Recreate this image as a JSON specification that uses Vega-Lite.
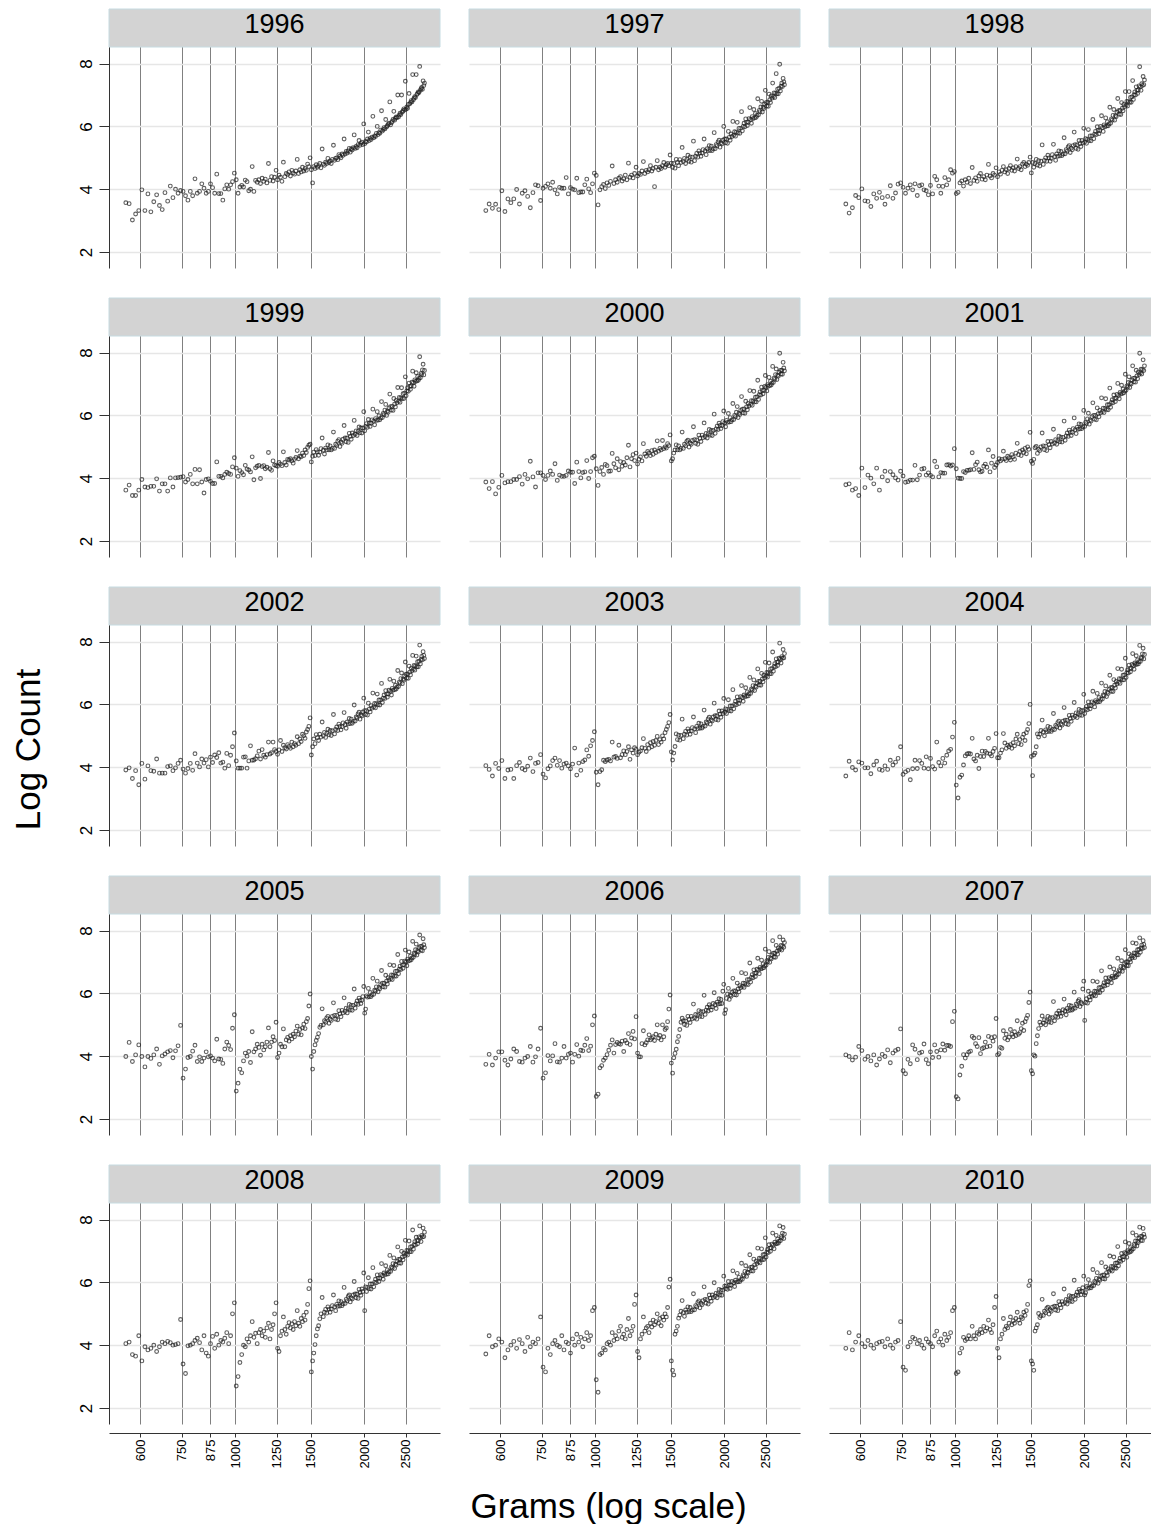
{
"$schema":"https://vega.github.io/schema/vega-lite/v6.json",
"padding":{"left":11,"top":8,"right":0,"bottom":0},
"background":"white",
"config":{"font":"Liberation Sans","view":{"stroke":null},
"axis":{"labelFont":"Liberation Sans","titleFont":"Liberation Sans","labelColor":"#000","titleColor":"#000","titleFontWeight":"normal","zindex":0},
"axisX":{"grid":true,"gridColor":"#808080","gridWidth":1,"labels":false,"ticks":false,"domain":false},
"axisY":{"grid":true,"gridColor":"#e6e6e6","gridWidth":1.5,"labels":false,"ticks":false,"domain":false}},
"datasets":{
"y1996":[{"g":555,"v":3.57},{"g":565,"v":3.54},{"g":575,"v":3.02},{"g":585,"v":3.21},{"g":595,"v":3.32},{"g":605,"v":3.98},{"g":615,"v":3.32},{"g":625,"v":3.85},{"g":635,"v":3.28},{"g":645,"v":3.6},{"g":655,"v":3.82},{"g":665,"v":3.48},{"g":675,"v":3.35},{"g":685,"v":3.89},{"g":695,"v":3.62},{"g":705,"v":4.1},{"g":715,"v":3.73},{"g":725,"v":4.0},{"g":735,"v":3.87},{"g":745,"v":3.96},{"g":755,"v":3.93},{"g":765,"v":3.79},{"g":775,"v":3.65},{"g":785,"v":3.93},{"g":795,"v":3.79},{"g":805,"v":4.33},{"g":815,"v":3.87},{"g":825,"v":3.93},{"g":835,"v":4.17},{"g":845,"v":4.03},{"g":855,"v":3.87},{"g":865,"v":3.93},{"g":875,"v":4.17},{"g":885,"v":4.05},{"g":895,"v":3.87},{"g":905,"v":4.48},{"g":915,"v":3.86},{"g":925,"v":3.86},{"g":935,"v":3.65},{"g":945,"v":4.01},{"g":955,"v":4.14},{"g":965,"v":4.0},{"g":975,"v":4.14},{"g":985,"v":4.24},{"g":995,"v":4.51},{"g":1005,"v":4.3},{"g":1015,"v":3.87},{"g":1025,"v":4.07},{"g":1035,"v":4.12},{"g":1045,"v":4.07},{"g":1055,"v":4.29},{"g":1065,"v":4.24},{"g":1075,"v":3.95},{"g":1085,"v":4.0},{"g":1095,"v":4.72},{"g":1105,"v":3.93},{"g":1115,"v":4.28},{"g":1125,"v":4.22},{"g":1135,"v":4.3},{"g":1145,"v":4.18},{"g":1155,"v":4.35},{"g":1165,"v":4.25},{"g":1175,"v":4.32},{"g":1185,"v":4.2},{"g":1195,"v":4.82},{"g":1205,"v":4.28},{"g":1215,"v":4.4},{"g":1225,"v":4.26},{"g":1235,"v":4.38},{"g":1245,"v":4.6},{"g":1255,"v":4.3},{"g":1265,"v":4.45},{"g":1275,"v":4.38},{"g":1285,"v":4.25},{"g":1295,"v":4.86},{"g":1305,"v":4.4},{"g":1315,"v":4.5},{"g":1325,"v":4.47},{"g":1335,"v":4.55},{"g":1345,"v":4.42},{"g":1355,"v":4.6},{"g":1365,"v":4.52},{"g":1375,"v":4.48},{"g":1385,"v":4.58},{"g":1395,"v":4.95},{"g":1405,"v":4.5},{"g":1415,"v":4.62},{"g":1425,"v":4.55},{"g":1435,"v":4.7},{"g":1445,"v":4.58},{"g":1455,"v":4.66},{"g":1465,"v":4.6},{"g":1475,"v":4.8},{"g":1485,"v":4.72},{"g":1495,"v":5.0},{"g":1505,"v":4.62},{"g":1515,"v":4.2},{"g":1525,"v":4.72},{"g":1535,"v":4.66},{"g":1545,"v":4.78},{"g":1555,"v":4.7},{"g":1565,"v":4.75},{"g":1575,"v":4.82},{"g":1585,"v":4.68},{"g":1595,"v":5.28},{"g":1605,"v":4.8},{"g":1615,"v":4.76},{"g":1625,"v":4.86},{"g":1635,"v":4.82},{"g":1645,"v":4.98},{"g":1655,"v":4.85},{"g":1665,"v":4.9},{"g":1675,"v":4.82},{"g":1685,"v":4.95},{"g":1695,"v":5.4},{"g":1705,"v":4.92},{"g":1715,"v":4.98},{"g":1725,"v":5.0},{"g":1735,"v":4.94},{"g":1745,"v":5.1},{"g":1755,"v":5.05},{"g":1765,"v":5.0},{"g":1775,"v":5.12},{"g":1785,"v":5.08},{"g":1795,"v":5.6},{"g":1805,"v":5.12},{"g":1815,"v":5.2},{"g":1825,"v":5.15},{"g":1835,"v":5.22},{"g":1845,"v":5.3},{"g":1855,"v":5.18},{"g":1865,"v":5.28},{"g":1875,"v":5.25},{"g":1885,"v":5.32},{"g":1895,"v":5.73},{"g":1905,"v":5.3},{"g":1915,"v":5.36},{"g":1925,"v":5.32},{"g":1935,"v":5.42},{"g":1945,"v":5.55},{"g":1955,"v":5.4},{"g":1965,"v":5.46},{"g":1975,"v":5.5},{"g":1985,"v":5.42},{"g":1995,"v":6.08},{"g":2005,"v":5.45},{"g":2015,"v":5.52},{"g":2025,"v":5.5},{"g":2035,"v":5.6},{"g":2045,"v":5.82},{"g":2055,"v":5.55},{"g":2065,"v":5.62},{"g":2075,"v":5.58},{"g":2085,"v":5.66},{"g":2095,"v":6.32},{"g":2105,"v":5.64},{"g":2115,"v":5.7},{"g":2125,"v":5.68},{"g":2135,"v":5.78},{"g":2145,"v":6.0},{"g":2155,"v":5.74},{"g":2165,"v":5.8},{"g":2175,"v":5.78},{"g":2185,"v":5.88},{"g":2195,"v":6.5},{"g":2205,"v":5.85},{"g":2215,"v":5.9},{"g":2225,"v":5.96},{"g":2235,"v":5.92},{"g":2245,"v":6.22},{"g":2255,"v":5.98},{"g":2265,"v":6.02},{"g":2275,"v":6.06},{"g":2285,"v":6.1},{"g":2295,"v":6.78},{"g":2305,"v":6.05},{"g":2315,"v":6.12},{"g":2325,"v":6.16},{"g":2335,"v":6.22},{"g":2345,"v":6.48},{"g":2355,"v":6.2},{"g":2365,"v":6.26},{"g":2375,"v":6.3},{"g":2385,"v":6.28},{"g":2395,"v":7.0},{"g":2405,"v":6.3},{"g":2415,"v":6.36},{"g":2425,"v":6.42},{"g":2435,"v":6.38},{"g":2445,"v":7.0},{"g":2455,"v":6.46},{"g":2465,"v":6.5},{"g":2475,"v":6.56},{"g":2485,"v":6.52},{"g":2495,"v":7.44},{"g":2505,"v":6.55},{"g":2515,"v":6.62},{"g":2525,"v":6.58},{"g":2535,"v":6.7},{"g":2545,"v":7.05},{"g":2555,"v":6.72},{"g":2565,"v":6.76},{"g":2575,"v":6.82},{"g":2585,"v":6.78},{"g":2595,"v":7.65},{"g":2605,"v":6.85},{"g":2615,"v":6.9},{"g":2625,"v":6.95},{"g":2635,"v":6.92},{"g":2645,"v":7.65},{"g":2655,"v":7.02},{"g":2665,"v":7.05},{"g":2675,"v":7.1},{"g":2685,"v":7.08},{"g":2695,"v":7.91},{"g":2705,"v":7.15},{"g":2715,"v":7.2},{"g":2725,"v":7.24},{"g":2735,"v":7.18},{"g":2745,"v":7.45},{"g":2755,"v":7.3},{"g":2765,"v":7.38}],
"y1997":[{"g":555,"v":3.32},{"g":565,"v":3.53},{"g":575,"v":3.39},{"g":585,"v":3.52},{"g":595,"v":3.35},{"g":605,"v":3.95},{"g":615,"v":3.29},{"g":625,"v":3.69},{"g":635,"v":3.57},{"g":645,"v":3.69},{"g":655,"v":3.99},{"g":665,"v":3.53},{"g":675,"v":3.87},{"g":685,"v":3.95},{"g":695,"v":3.77},{"g":705,"v":3.41},{"g":715,"v":3.89},{"g":725,"v":4.14},{"g":735,"v":4.11},{"g":745,"v":3.64},{"g":755,"v":4.03},{"g":765,"v":4.09},{"g":775,"v":4.17},{"g":785,"v":4.03},{"g":795,"v":4.22},{"g":805,"v":3.98},{"g":815,"v":3.85},{"g":825,"v":4.06},{"g":835,"v":4.03},{"g":845,"v":4.03},{"g":855,"v":4.37},{"g":865,"v":3.85},{"g":875,"v":4.05},{"g":885,"v":4.0},{"g":895,"v":3.98},{"g":905,"v":4.35},{"g":915,"v":3.89},{"g":925,"v":3.91},{"g":935,"v":3.91},{"g":945,"v":4.14},{"g":955,"v":4.32},{"g":965,"v":4.01},{"g":975,"v":3.89},{"g":985,"v":4.17},{"g":995,"v":4.51},{"g":1005,"v":4.44},{"g":1015,"v":3.5},{"g":1025,"v":3.98},{"g":1035,"v":4.08},{"g":1045,"v":4.15},{"g":1055,"v":4.02},{"g":1065,"v":4.2},{"g":1075,"v":4.12},{"g":1085,"v":4.25},{"g":1095,"v":4.74},{"g":1105,"v":4.18},{"g":1115,"v":4.3},{"g":1125,"v":4.22},{"g":1135,"v":4.35},{"g":1145,"v":4.4},{"g":1155,"v":4.26},{"g":1165,"v":4.33},{"g":1175,"v":4.45},{"g":1185,"v":4.3},{"g":1195,"v":4.83},{"g":1205,"v":4.38},{"g":1215,"v":4.45},{"g":1225,"v":4.36},{"g":1235,"v":4.5},{"g":1245,"v":4.7},{"g":1255,"v":4.42},{"g":1265,"v":4.5},{"g":1275,"v":4.47},{"g":1285,"v":4.58},{"g":1295,"v":4.88},{"g":1305,"v":4.5},{"g":1315,"v":4.6},{"g":1325,"v":4.55},{"g":1335,"v":4.62},{"g":1345,"v":4.75},{"g":1355,"v":4.58},{"g":1365,"v":4.66},{"g":1375,"v":4.08},{"g":1385,"v":4.7},{"g":1395,"v":4.91},{"g":1405,"v":4.62},{"g":1415,"v":4.7},{"g":1425,"v":4.66},{"g":1435,"v":4.75},{"g":1445,"v":4.85},{"g":1455,"v":4.7},{"g":1465,"v":4.78},{"g":1475,"v":4.82},{"g":1485,"v":4.75},{"g":1495,"v":5.09},{"g":1505,"v":4.83},{"g":1515,"v":4.7},{"g":1525,"v":4.82},{"g":1535,"v":4.67},{"g":1545,"v":4.95},{"g":1555,"v":4.85},{"g":1565,"v":4.75},{"g":1575,"v":4.94},{"g":1585,"v":4.85},{"g":1595,"v":5.33},{"g":1605,"v":4.88},{"g":1615,"v":4.98},{"g":1625,"v":4.82},{"g":1635,"v":4.95},{"g":1645,"v":5.08},{"g":1655,"v":4.89},{"g":1665,"v":5.03},{"g":1675,"v":4.86},{"g":1685,"v":5.02},{"g":1695,"v":5.53},{"g":1705,"v":4.91},{"g":1715,"v":5.05},{"g":1725,"v":5.14},{"g":1735,"v":5.02},{"g":1745,"v":5.22},{"g":1755,"v":5.15},{"g":1765,"v":5.05},{"g":1775,"v":5.15},{"g":1785,"v":5.26},{"g":1795,"v":5.6},{"g":1805,"v":5.22},{"g":1815,"v":5.1},{"g":1825,"v":5.29},{"g":1835,"v":5.23},{"g":1845,"v":5.39},{"g":1855,"v":5.23},{"g":1865,"v":5.37},{"g":1875,"v":5.23},{"g":1885,"v":5.29},{"g":1895,"v":5.8},{"g":1905,"v":5.29},{"g":1915,"v":5.42},{"g":1925,"v":5.38},{"g":1935,"v":5.51},{"g":1945,"v":5.56},{"g":1955,"v":5.34},{"g":1965,"v":5.48},{"g":1975,"v":5.44},{"g":1985,"v":5.56},{"g":1995,"v":6.0},{"g":2005,"v":5.6},{"g":2015,"v":5.48},{"g":2025,"v":5.6},{"g":2035,"v":5.46},{"g":2045,"v":5.84},{"g":2055,"v":5.65},{"g":2065,"v":5.56},{"g":2075,"v":5.76},{"g":2085,"v":5.68},{"g":2095,"v":6.16},{"g":2105,"v":5.72},{"g":2115,"v":5.83},{"g":2125,"v":5.69},{"g":2135,"v":5.82},{"g":2145,"v":6.13},{"g":2155,"v":5.79},{"g":2165,"v":5.94},{"g":2175,"v":5.78},{"g":2185,"v":5.94},{"g":2195,"v":6.47},{"g":2205,"v":5.86},{"g":2215,"v":6.0},{"g":2225,"v":6.1},{"g":2235,"v":5.99},{"g":2245,"v":6.24},{"g":2255,"v":6.13},{"g":2265,"v":6.03},{"g":2275,"v":6.13},{"g":2285,"v":6.25},{"g":2295,"v":6.6},{"g":2305,"v":6.22},{"g":2315,"v":6.1},{"g":2325,"v":6.31},{"g":2335,"v":6.25},{"g":2345,"v":6.54},{"g":2355,"v":6.27},{"g":2365,"v":6.41},{"g":2375,"v":6.29},{"g":2385,"v":6.35},{"g":2395,"v":6.88},{"g":2405,"v":6.37},{"g":2415,"v":6.51},{"g":2425,"v":6.47},{"g":2435,"v":6.62},{"g":2445,"v":6.8},{"g":2455,"v":6.46},{"g":2465,"v":6.61},{"g":2475,"v":6.57},{"g":2485,"v":6.71},{"g":2495,"v":7.15},{"g":2505,"v":6.76},{"g":2515,"v":6.65},{"g":2525,"v":6.77},{"g":2535,"v":6.64},{"g":2545,"v":7.03},{"g":2555,"v":6.85},{"g":2565,"v":6.76},{"g":2575,"v":6.97},{"g":2585,"v":6.9},{"g":2595,"v":7.38},{"g":2605,"v":6.95},{"g":2615,"v":7.07},{"g":2625,"v":6.92},{"g":2635,"v":7.06},{"g":2645,"v":7.68},{"g":2655,"v":7.04},{"g":2665,"v":7.19},{"g":2675,"v":7.04},{"g":2685,"v":7.21},{"g":2695,"v":7.98},{"g":2705,"v":7.13},{"g":2715,"v":7.28},{"g":2725,"v":7.38},{"g":2735,"v":7.27},{"g":2745,"v":7.53},{"g":2755,"v":7.42},{"g":2765,"v":7.33}],
"y1998":[{"g":555,"v":3.53},{"g":565,"v":3.24},{"g":575,"v":3.41},{"g":585,"v":3.8},{"g":595,"v":3.73},{"g":605,"v":4.01},{"g":615,"v":3.63},{"g":625,"v":3.61},{"g":635,"v":3.45},{"g":645,"v":3.85},{"g":655,"v":3.71},{"g":665,"v":3.9},{"g":675,"v":3.73},{"g":685,"v":3.52},{"g":695,"v":3.77},{"g":705,"v":4.11},{"g":715,"v":3.71},{"g":725,"v":3.88},{"g":735,"v":4.16},{"g":745,"v":4.2},{"g":755,"v":4.06},{"g":765,"v":3.87},{"g":775,"v":4.03},{"g":785,"v":4.14},{"g":795,"v":3.98},{"g":805,"v":4.17},{"g":815,"v":3.8},{"g":825,"v":4.11},{"g":835,"v":4.14},{"g":845,"v":3.98},{"g":855,"v":3.95},{"g":865,"v":3.82},{"g":875,"v":4.12},{"g":885,"v":3.85},{"g":895,"v":4.41},{"g":905,"v":4.3},{"g":915,"v":4.1},{"g":925,"v":3.87},{"g":935,"v":4.09},{"g":945,"v":4.37},{"g":955,"v":4.14},{"g":965,"v":4.3},{"g":975,"v":4.62},{"g":985,"v":4.51},{"g":995,"v":4.56},{"g":1005,"v":3.86},{"g":1015,"v":3.9},{"g":1025,"v":4.2},{"g":1035,"v":4.26},{"g":1045,"v":4.1},{"g":1055,"v":4.3},{"g":1065,"v":4.22},{"g":1075,"v":4.35},{"g":1085,"v":4.18},{"g":1095,"v":4.69},{"g":1105,"v":4.28},{"g":1115,"v":4.36},{"g":1125,"v":4.25},{"g":1135,"v":4.42},{"g":1145,"v":4.5},{"g":1155,"v":4.32},{"g":1165,"v":4.4},{"g":1175,"v":4.3},{"g":1185,"v":4.45},{"g":1195,"v":4.79},{"g":1205,"v":4.42},{"g":1215,"v":4.36},{"g":1225,"v":4.5},{"g":1235,"v":4.45},{"g":1245,"v":4.68},{"g":1255,"v":4.4},{"g":1265,"v":4.55},{"g":1275,"v":4.48},{"g":1285,"v":4.6},{"g":1295,"v":4.72},{"g":1305,"v":4.55},{"g":1315,"v":4.62},{"g":1325,"v":4.5},{"g":1335,"v":4.66},{"g":1345,"v":4.75},{"g":1355,"v":4.6},{"g":1365,"v":4.68},{"g":1375,"v":4.58},{"g":1385,"v":4.72},{"g":1395,"v":4.96},{"g":1405,"v":4.66},{"g":1415,"v":4.72},{"g":1425,"v":4.62},{"g":1435,"v":4.8},{"g":1445,"v":4.85},{"g":1455,"v":4.72},{"g":1465,"v":4.8},{"g":1475,"v":4.76},{"g":1485,"v":4.85},{"g":1495,"v":5.02},{"g":1505,"v":4.52},{"g":1515,"v":4.85},{"g":1525,"v":4.7},{"g":1535,"v":4.82},{"g":1545,"v":4.95},{"g":1555,"v":4.77},{"g":1565,"v":4.91},{"g":1575,"v":4.74},{"g":1585,"v":4.89},{"g":1595,"v":5.41},{"g":1605,"v":4.79},{"g":1615,"v":4.92},{"g":1625,"v":5.0},{"g":1635,"v":4.89},{"g":1645,"v":5.08},{"g":1655,"v":5.0},{"g":1665,"v":4.89},{"g":1675,"v":4.98},{"g":1685,"v":5.1},{"g":1695,"v":5.43},{"g":1705,"v":5.04},{"g":1715,"v":4.92},{"g":1725,"v":5.12},{"g":1735,"v":5.05},{"g":1745,"v":5.22},{"g":1755,"v":5.06},{"g":1765,"v":5.2},{"g":1775,"v":5.07},{"g":1785,"v":5.12},{"g":1795,"v":5.64},{"g":1805,"v":5.13},{"g":1815,"v":5.26},{"g":1825,"v":5.21},{"g":1835,"v":5.35},{"g":1845,"v":5.39},{"g":1855,"v":5.17},{"g":1865,"v":5.31},{"g":1875,"v":5.26},{"g":1885,"v":5.39},{"g":1895,"v":5.82},{"g":1905,"v":5.42},{"g":1915,"v":5.3},{"g":1925,"v":5.41},{"g":1935,"v":5.27},{"g":1945,"v":5.55},{"g":1955,"v":5.45},{"g":1965,"v":5.36},{"g":1975,"v":5.55},{"g":1985,"v":5.47},{"g":1995,"v":5.94},{"g":2005,"v":5.5},{"g":2015,"v":5.61},{"g":2025,"v":5.46},{"g":2035,"v":5.59},{"g":2045,"v":5.9},{"g":2055,"v":5.55},{"g":2065,"v":5.7},{"g":2075,"v":5.54},{"g":2085,"v":5.7},{"g":2095,"v":6.22},{"g":2105,"v":5.61},{"g":2115,"v":5.75},{"g":2125,"v":5.84},{"g":2135,"v":5.74},{"g":2145,"v":5.99},{"g":2155,"v":5.87},{"g":2165,"v":5.77},{"g":2175,"v":5.87},{"g":2185,"v":6.0},{"g":2195,"v":6.34},{"g":2205,"v":5.96},{"g":2215,"v":5.84},{"g":2225,"v":6.05},{"g":2235,"v":5.99},{"g":2245,"v":6.27},{"g":2255,"v":6.01},{"g":2265,"v":6.15},{"g":2275,"v":6.02},{"g":2285,"v":6.08},{"g":2295,"v":6.61},{"g":2305,"v":6.1},{"g":2315,"v":6.24},{"g":2325,"v":6.2},{"g":2335,"v":6.35},{"g":2345,"v":6.54},{"g":2355,"v":6.2},{"g":2365,"v":6.34},{"g":2375,"v":6.31},{"g":2385,"v":6.45},{"g":2395,"v":6.89},{"g":2405,"v":6.5},{"g":2415,"v":6.39},{"g":2425,"v":6.51},{"g":2435,"v":6.38},{"g":2445,"v":6.76},{"g":2455,"v":6.58},{"g":2465,"v":6.5},{"g":2475,"v":6.7},{"g":2485,"v":6.63},{"g":2495,"v":7.11},{"g":2505,"v":6.68},{"g":2515,"v":6.8},{"g":2525,"v":6.65},{"g":2535,"v":6.79},{"g":2545,"v":7.11},{"g":2555,"v":6.77},{"g":2565,"v":6.92},{"g":2575,"v":6.77},{"g":2585,"v":6.94},{"g":2595,"v":7.46},{"g":2605,"v":6.86},{"g":2615,"v":7.01},{"g":2625,"v":7.1},{"g":2635,"v":7.0},{"g":2645,"v":7.26},{"g":2655,"v":7.15},{"g":2665,"v":7.05},{"g":2675,"v":7.16},{"g":2685,"v":7.29},{"g":2695,"v":7.9},{"g":2705,"v":7.26},{"g":2715,"v":7.15},{"g":2725,"v":7.36},{"g":2735,"v":7.3},{"g":2745,"v":7.59},{"g":2755,"v":7.33},{"g":2765,"v":7.48}],
"y1999":[{"g":555,"v":3.62},{"g":565,"v":3.78},{"g":575,"v":3.45},{"g":585,"v":3.45},{"g":595,"v":3.62},{"g":605,"v":3.96},{"g":615,"v":3.72},{"g":625,"v":3.7},{"g":635,"v":3.74},{"g":645,"v":3.74},{"g":655,"v":3.98},{"g":665,"v":3.59},{"g":675,"v":3.82},{"g":685,"v":3.82},{"g":695,"v":3.59},{"g":705,"v":4.01},{"g":715,"v":3.72},{"g":725,"v":4.01},{"g":735,"v":4.02},{"g":745,"v":4.03},{"g":755,"v":4.05},{"g":765,"v":3.88},{"g":775,"v":3.96},{"g":785,"v":4.12},{"g":795,"v":3.82},{"g":805,"v":4.28},{"g":815,"v":3.82},{"g":825,"v":4.27},{"g":835,"v":3.88},{"g":845,"v":3.53},{"g":855,"v":3.96},{"g":865,"v":3.98},{"g":875,"v":3.9},{"g":885,"v":3.83},{"g":895,"v":3.83},{"g":905,"v":4.52},{"g":915,"v":4.06},{"g":925,"v":4.06},{"g":935,"v":4.01},{"g":945,"v":4.12},{"g":955,"v":4.19},{"g":965,"v":4.15},{"g":975,"v":4.12},{"g":985,"v":4.36},{"g":995,"v":4.65},{"g":1005,"v":4.32},{"g":1015,"v":4.06},{"g":1025,"v":4.24},{"g":1035,"v":4.18},{"g":1045,"v":4.11},{"g":1055,"v":4.41},{"g":1065,"v":4.29},{"g":1075,"v":4.26},{"g":1085,"v":4.2},{"g":1095,"v":4.68},{"g":1105,"v":3.95},{"g":1115,"v":4.33},{"g":1125,"v":4.38},{"g":1135,"v":4.41},{"g":1145,"v":3.99},{"g":1155,"v":4.37},{"g":1165,"v":4.4},{"g":1175,"v":4.3},{"g":1185,"v":4.35},{"g":1195,"v":4.82},{"g":1205,"v":4.3},{"g":1215,"v":4.25},{"g":1225,"v":4.55},{"g":1235,"v":4.42},{"g":1245,"v":4.4},{"g":1255,"v":4.38},{"g":1265,"v":4.5},{"g":1275,"v":4.45},{"g":1285,"v":4.4},{"g":1295,"v":4.84},{"g":1305,"v":4.5},{"g":1315,"v":4.42},{"g":1325,"v":4.6},{"g":1335,"v":4.58},{"g":1345,"v":4.62},{"g":1355,"v":4.55},{"g":1365,"v":4.48},{"g":1375,"v":4.6},{"g":1385,"v":4.66},{"g":1395,"v":4.88},{"g":1405,"v":4.62},{"g":1415,"v":4.7},{"g":1425,"v":4.68},{"g":1435,"v":4.8},{"g":1445,"v":4.72},{"g":1455,"v":4.9},{"g":1465,"v":4.82},{"g":1475,"v":4.98},{"g":1485,"v":5.05},{"g":1495,"v":5.08},{"g":1505,"v":4.52},{"g":1515,"v":4.7},{"g":1525,"v":4.83},{"g":1535,"v":4.72},{"g":1545,"v":4.91},{"g":1555,"v":4.84},{"g":1565,"v":4.73},{"g":1575,"v":4.83},{"g":1585,"v":4.94},{"g":1595,"v":5.28},{"g":1605,"v":4.89},{"g":1615,"v":4.77},{"g":1625,"v":4.96},{"g":1635,"v":4.9},{"g":1645,"v":5.06},{"g":1655,"v":4.9},{"g":1665,"v":5.03},{"g":1675,"v":4.9},{"g":1685,"v":4.95},{"g":1695,"v":5.47},{"g":1705,"v":4.95},{"g":1715,"v":5.08},{"g":1725,"v":5.04},{"g":1735,"v":5.18},{"g":1745,"v":5.23},{"g":1755,"v":5.01},{"g":1765,"v":5.15},{"g":1775,"v":5.11},{"g":1785,"v":5.24},{"g":1795,"v":5.68},{"g":1805,"v":5.28},{"g":1815,"v":5.16},{"g":1825,"v":5.28},{"g":1835,"v":5.14},{"g":1845,"v":5.43},{"g":1855,"v":5.33},{"g":1865,"v":5.24},{"g":1875,"v":5.44},{"g":1885,"v":5.36},{"g":1895,"v":5.84},{"g":1905,"v":5.4},{"g":1915,"v":5.51},{"g":1925,"v":5.36},{"g":1935,"v":5.49},{"g":1945,"v":5.63},{"g":1955,"v":5.45},{"g":1965,"v":5.6},{"g":1975,"v":5.44},{"g":1985,"v":5.6},{"g":1995,"v":6.12},{"g":2005,"v":5.51},{"g":2015,"v":5.65},{"g":2025,"v":5.74},{"g":2035,"v":5.62},{"g":2045,"v":5.87},{"g":2055,"v":5.75},{"g":2065,"v":5.65},{"g":2075,"v":5.75},{"g":2085,"v":5.86},{"g":2095,"v":6.2},{"g":2105,"v":5.82},{"g":2115,"v":5.7},{"g":2125,"v":5.9},{"g":2135,"v":5.84},{"g":2145,"v":6.12},{"g":2155,"v":5.85},{"g":2165,"v":5.99},{"g":2175,"v":5.86},{"g":2185,"v":5.92},{"g":2195,"v":6.44},{"g":2205,"v":5.93},{"g":2215,"v":6.06},{"g":2225,"v":6.02},{"g":2235,"v":6.17},{"g":2245,"v":6.35},{"g":2255,"v":6.0},{"g":2265,"v":6.14},{"g":2275,"v":6.1},{"g":2285,"v":6.24},{"g":2295,"v":6.68},{"g":2305,"v":6.28},{"g":2315,"v":6.17},{"g":2325,"v":6.29},{"g":2335,"v":6.16},{"g":2345,"v":6.54},{"g":2355,"v":6.36},{"g":2365,"v":6.27},{"g":2375,"v":6.48},{"g":2385,"v":6.4},{"g":2395,"v":6.89},{"g":2405,"v":6.45},{"g":2415,"v":6.57},{"g":2425,"v":6.42},{"g":2435,"v":6.56},{"g":2445,"v":6.88},{"g":2455,"v":6.54},{"g":2465,"v":6.69},{"g":2475,"v":6.54},{"g":2485,"v":6.71},{"g":2495,"v":7.23},{"g":2505,"v":6.63},{"g":2515,"v":6.78},{"g":2525,"v":6.88},{"g":2535,"v":6.77},{"g":2545,"v":7.03},{"g":2555,"v":6.92},{"g":2565,"v":6.83},{"g":2575,"v":6.94},{"g":2585,"v":7.06},{"g":2595,"v":7.41},{"g":2605,"v":7.04},{"g":2615,"v":6.93},{"g":2625,"v":7.13},{"g":2635,"v":7.08},{"g":2645,"v":7.36},{"g":2655,"v":7.1},{"g":2665,"v":7.24},{"g":2675,"v":7.12},{"g":2685,"v":7.18},{"g":2695,"v":7.87},{"g":2705,"v":7.2},{"g":2715,"v":7.34},{"g":2725,"v":7.3},{"g":2735,"v":7.45},{"g":2745,"v":7.63},{"g":2755,"v":7.29},{"g":2765,"v":7.43}],
"y2000":[{"g":555,"v":3.88},{"g":565,"v":3.67},{"g":575,"v":3.89},{"g":585,"v":3.5},{"g":595,"v":3.71},{"g":605,"v":4.09},{"g":615,"v":3.85},{"g":625,"v":3.89},{"g":635,"v":3.89},{"g":645,"v":3.96},{"g":655,"v":3.96},{"g":665,"v":4.05},{"g":675,"v":3.81},{"g":685,"v":4.12},{"g":695,"v":3.98},{"g":705,"v":4.54},{"g":715,"v":4.04},{"g":725,"v":3.72},{"g":735,"v":4.17},{"g":745,"v":4.17},{"g":755,"v":4.09},{"g":765,"v":3.96},{"g":775,"v":4.09},{"g":785,"v":4.23},{"g":795,"v":4.12},{"g":805,"v":4.46},{"g":815,"v":3.93},{"g":825,"v":4.1},{"g":835,"v":4.06},{"g":845,"v":4.06},{"g":855,"v":4.09},{"g":865,"v":4.23},{"g":875,"v":4.19},{"g":885,"v":4.19},{"g":895,"v":3.83},{"g":905,"v":4.51},{"g":915,"v":4.21},{"g":925,"v":4.01},{"g":935,"v":4.18},{"g":945,"v":4.2},{"g":955,"v":4.56},{"g":965,"v":3.99},{"g":975,"v":4.21},{"g":985,"v":4.65},{"g":995,"v":4.7},{"g":1005,"v":4.3},{"g":1015,"v":3.77},{"g":1025,"v":4.21},{"g":1035,"v":4.34},{"g":1045,"v":4.12},{"g":1055,"v":4.44},{"g":1065,"v":4.4},{"g":1075,"v":4.22},{"g":1085,"v":4.23},{"g":1095,"v":4.79},{"g":1105,"v":4.46},{"g":1115,"v":4.33},{"g":1125,"v":4.62},{"g":1135,"v":4.27},{"g":1145,"v":4.53},{"g":1155,"v":4.38},{"g":1165,"v":4.5},{"g":1175,"v":4.42},{"g":1185,"v":4.65},{"g":1195,"v":5.05},{"g":1205,"v":4.36},{"g":1215,"v":4.62},{"g":1225,"v":4.75},{"g":1235,"v":4.56},{"g":1245,"v":4.8},{"g":1255,"v":4.45},{"g":1265,"v":4.6},{"g":1275,"v":4.68},{"g":1285,"v":4.55},{"g":1295,"v":5.1},{"g":1305,"v":4.77},{"g":1315,"v":4.7},{"g":1325,"v":4.85},{"g":1335,"v":4.8},{"g":1345,"v":4.72},{"g":1355,"v":4.88},{"g":1365,"v":4.76},{"g":1375,"v":4.9},{"g":1385,"v":4.82},{"g":1395,"v":5.19},{"g":1405,"v":4.86},{"g":1415,"v":4.95},{"g":1425,"v":4.9},{"g":1435,"v":5.2},{"g":1445,"v":4.94},{"g":1455,"v":5.0},{"g":1465,"v":4.96},{"g":1475,"v":5.1},{"g":1485,"v":5.04},{"g":1495,"v":5.38},{"g":1505,"v":4.55},{"g":1515,"v":4.62},{"g":1525,"v":4.8},{"g":1535,"v":4.9},{"g":1545,"v":5.06},{"g":1555,"v":4.9},{"g":1565,"v":5.03},{"g":1575,"v":4.9},{"g":1585,"v":4.95},{"g":1595,"v":5.47},{"g":1605,"v":4.95},{"g":1615,"v":5.08},{"g":1625,"v":5.03},{"g":1635,"v":5.17},{"g":1645,"v":5.21},{"g":1655,"v":4.99},{"g":1665,"v":5.12},{"g":1675,"v":5.08},{"g":1685,"v":5.2},{"g":1695,"v":5.64},{"g":1705,"v":5.23},{"g":1715,"v":5.11},{"g":1725,"v":5.22},{"g":1735,"v":5.08},{"g":1745,"v":5.37},{"g":1755,"v":5.27},{"g":1765,"v":5.17},{"g":1775,"v":5.37},{"g":1785,"v":5.29},{"g":1795,"v":5.76},{"g":1805,"v":5.32},{"g":1815,"v":5.43},{"g":1825,"v":5.28},{"g":1835,"v":5.41},{"g":1845,"v":5.55},{"g":1855,"v":5.37},{"g":1865,"v":5.52},{"g":1875,"v":5.36},{"g":1885,"v":5.52},{"g":1895,"v":6.04},{"g":1905,"v":5.43},{"g":1915,"v":5.57},{"g":1925,"v":5.66},{"g":1935,"v":5.55},{"g":1945,"v":5.75},{"g":1955,"v":5.68},{"g":1965,"v":5.58},{"g":1975,"v":5.68},{"g":1985,"v":5.8},{"g":1995,"v":6.14},{"g":2005,"v":5.76},{"g":2015,"v":5.64},{"g":2025,"v":5.84},{"g":2035,"v":5.78},{"g":2045,"v":6.06},{"g":2055,"v":5.79},{"g":2065,"v":5.93},{"g":2075,"v":5.8},{"g":2085,"v":5.86},{"g":2095,"v":6.38},{"g":2105,"v":5.87},{"g":2115,"v":6.0},{"g":2125,"v":5.96},{"g":2135,"v":6.1},{"g":2145,"v":6.28},{"g":2155,"v":5.93},{"g":2165,"v":6.07},{"g":2175,"v":6.03},{"g":2185,"v":6.16},{"g":2195,"v":6.6},{"g":2205,"v":6.2},{"g":2215,"v":6.08},{"g":2225,"v":6.21},{"g":2235,"v":6.07},{"g":2245,"v":6.45},{"g":2255,"v":6.27},{"g":2265,"v":6.18},{"g":2275,"v":6.38},{"g":2285,"v":6.3},{"g":2295,"v":6.79},{"g":2305,"v":6.35},{"g":2315,"v":6.47},{"g":2325,"v":6.32},{"g":2335,"v":6.46},{"g":2345,"v":6.77},{"g":2355,"v":6.43},{"g":2365,"v":6.58},{"g":2375,"v":6.43},{"g":2385,"v":6.59},{"g":2395,"v":7.12},{"g":2405,"v":6.51},{"g":2415,"v":6.66},{"g":2425,"v":6.75},{"g":2435,"v":6.65},{"g":2445,"v":6.9},{"g":2455,"v":6.79},{"g":2465,"v":6.69},{"g":2475,"v":6.8},{"g":2485,"v":6.92},{"g":2495,"v":7.27},{"g":2505,"v":6.89},{"g":2515,"v":6.78},{"g":2525,"v":6.98},{"g":2535,"v":6.93},{"g":2545,"v":7.21},{"g":2555,"v":6.95},{"g":2565,"v":7.09},{"g":2575,"v":6.97},{"g":2585,"v":7.03},{"g":2595,"v":7.56},{"g":2605,"v":7.05},{"g":2615,"v":7.19},{"g":2625,"v":7.15},{"g":2635,"v":7.3},{"g":2645,"v":7.48},{"g":2655,"v":7.14},{"g":2665,"v":7.28},{"g":2675,"v":7.25},{"g":2685,"v":7.38},{"g":2695,"v":7.98},{"g":2705,"v":7.43},{"g":2715,"v":7.32},{"g":2725,"v":7.44},{"g":2735,"v":7.31},{"g":2745,"v":7.69},{"g":2755,"v":7.51},{"g":2765,"v":7.42}],
"y2001":[{"g":555,"v":3.79},{"g":565,"v":3.82},{"g":575,"v":3.62},{"g":585,"v":3.67},{"g":595,"v":3.45},{"g":605,"v":4.32},{"g":615,"v":3.7},{"g":625,"v":4.1},{"g":635,"v":4.0},{"g":645,"v":3.82},{"g":655,"v":4.32},{"g":665,"v":3.62},{"g":675,"v":4.04},{"g":685,"v":4.22},{"g":695,"v":3.92},{"g":705,"v":4.21},{"g":715,"v":4.11},{"g":725,"v":4.01},{"g":735,"v":3.94},{"g":745,"v":4.22},{"g":755,"v":4.07},{"g":765,"v":3.87},{"g":775,"v":3.89},{"g":785,"v":3.94},{"g":795,"v":3.94},{"g":805,"v":4.41},{"g":815,"v":3.95},{"g":825,"v":4.1},{"g":835,"v":4.29},{"g":845,"v":4.31},{"g":855,"v":4.1},{"g":865,"v":4.17},{"g":875,"v":4.09},{"g":885,"v":4.04},{"g":895,"v":4.54},{"g":905,"v":4.36},{"g":915,"v":4.04},{"g":925,"v":4.18},{"g":935,"v":4.16},{"g":945,"v":4.16},{"g":955,"v":4.42},{"g":965,"v":4.43},{"g":975,"v":4.39},{"g":985,"v":4.42},{"g":995,"v":4.94},{"g":1005,"v":4.3},{"g":1015,"v":4.0},{"g":1025,"v":3.99},{"g":1035,"v":3.99},{"g":1045,"v":4.21},{"g":1055,"v":4.18},{"g":1065,"v":4.25},{"g":1075,"v":4.25},{"g":1085,"v":4.27},{"g":1095,"v":4.81},{"g":1105,"v":4.28},{"g":1115,"v":4.43},{"g":1125,"v":4.51},{"g":1135,"v":4.27},{"g":1145,"v":4.2},{"g":1155,"v":4.22},{"g":1165,"v":4.38},{"g":1175,"v":4.45},{"g":1185,"v":4.35},{"g":1195,"v":4.9},{"g":1205,"v":4.2},{"g":1215,"v":4.48},{"g":1225,"v":4.69},{"g":1235,"v":4.34},{"g":1245,"v":4.42},{"g":1255,"v":4.5},{"g":1265,"v":4.62},{"g":1275,"v":4.55},{"g":1285,"v":4.6},{"g":1295,"v":4.86},{"g":1305,"v":4.62},{"g":1315,"v":4.56},{"g":1325,"v":4.7},{"g":1335,"v":4.65},{"g":1345,"v":4.58},{"g":1355,"v":4.75},{"g":1365,"v":4.68},{"g":1375,"v":4.6},{"g":1385,"v":4.8},{"g":1395,"v":5.11},{"g":1405,"v":4.75},{"g":1415,"v":4.85},{"g":1425,"v":4.72},{"g":1435,"v":4.9},{"g":1445,"v":4.82},{"g":1455,"v":4.95},{"g":1465,"v":4.78},{"g":1475,"v":5.0},{"g":1485,"v":4.92},{"g":1495,"v":5.46},{"g":1505,"v":4.54},{"g":1515,"v":4.47},{"g":1525,"v":4.6},{"g":1535,"v":4.97},{"g":1545,"v":5.01},{"g":1555,"v":4.79},{"g":1565,"v":4.92},{"g":1575,"v":4.88},{"g":1585,"v":5.0},{"g":1595,"v":5.44},{"g":1605,"v":5.03},{"g":1615,"v":4.91},{"g":1625,"v":5.02},{"g":1635,"v":4.88},{"g":1645,"v":5.17},{"g":1655,"v":5.07},{"g":1665,"v":4.97},{"g":1675,"v":5.17},{"g":1685,"v":5.09},{"g":1695,"v":5.56},{"g":1705,"v":5.12},{"g":1715,"v":5.23},{"g":1725,"v":5.08},{"g":1735,"v":5.2},{"g":1745,"v":5.34},{"g":1755,"v":5.16},{"g":1765,"v":5.31},{"g":1775,"v":5.15},{"g":1785,"v":5.3},{"g":1795,"v":5.82},{"g":1805,"v":5.21},{"g":1815,"v":5.35},{"g":1825,"v":5.44},{"g":1835,"v":5.33},{"g":1845,"v":5.53},{"g":1855,"v":5.46},{"g":1865,"v":5.36},{"g":1875,"v":5.46},{"g":1885,"v":5.58},{"g":1895,"v":5.92},{"g":1905,"v":5.54},{"g":1915,"v":5.42},{"g":1925,"v":5.62},{"g":1935,"v":5.56},{"g":1945,"v":5.73},{"g":1955,"v":5.57},{"g":1965,"v":5.71},{"g":1975,"v":5.58},{"g":1985,"v":5.64},{"g":1995,"v":6.16},{"g":2005,"v":5.65},{"g":2015,"v":5.78},{"g":2025,"v":5.74},{"g":2035,"v":5.89},{"g":2045,"v":6.07},{"g":2055,"v":5.72},{"g":2065,"v":5.86},{"g":2075,"v":5.82},{"g":2085,"v":5.96},{"g":2095,"v":6.4},{"g":2105,"v":6.0},{"g":2115,"v":5.88},{"g":2125,"v":6.0},{"g":2135,"v":5.86},{"g":2145,"v":6.24},{"g":2155,"v":6.05},{"g":2165,"v":5.96},{"g":2175,"v":6.16},{"g":2185,"v":6.08},{"g":2195,"v":6.56},{"g":2205,"v":6.12},{"g":2215,"v":6.23},{"g":2225,"v":6.09},{"g":2235,"v":6.22},{"g":2245,"v":6.53},{"g":2255,"v":6.19},{"g":2265,"v":6.34},{"g":2275,"v":6.18},{"g":2285,"v":6.34},{"g":2295,"v":6.87},{"g":2305,"v":6.26},{"g":2315,"v":6.41},{"g":2325,"v":6.5},{"g":2335,"v":6.4},{"g":2345,"v":6.65},{"g":2355,"v":6.54},{"g":2365,"v":6.44},{"g":2375,"v":6.55},{"g":2385,"v":6.67},{"g":2395,"v":7.02},{"g":2405,"v":6.64},{"g":2415,"v":6.53},{"g":2425,"v":6.73},{"g":2435,"v":6.68},{"g":2445,"v":6.96},{"g":2455,"v":6.7},{"g":2465,"v":6.84},{"g":2475,"v":6.72},{"g":2485,"v":6.78},{"g":2495,"v":7.31},{"g":2505,"v":6.8},{"g":2515,"v":6.94},{"g":2525,"v":6.9},{"g":2535,"v":7.05},{"g":2545,"v":7.23},{"g":2555,"v":6.89},{"g":2565,"v":7.03},{"g":2575,"v":7.0},{"g":2585,"v":7.13},{"g":2595,"v":7.58},{"g":2605,"v":7.18},{"g":2615,"v":7.07},{"g":2625,"v":7.19},{"g":2635,"v":7.06},{"g":2645,"v":7.44},{"g":2655,"v":7.26},{"g":2665,"v":7.17},{"g":2675,"v":7.38},{"g":2685,"v":7.3},{"g":2695,"v":7.98},{"g":2705,"v":7.35},{"g":2715,"v":7.47},{"g":2725,"v":7.32},{"g":2735,"v":7.46},{"g":2745,"v":7.77},{"g":2755,"v":7.43},{"g":2765,"v":7.58}],
"y2002":[{"g":555,"v":3.91},{"g":565,"v":3.98},{"g":575,"v":3.64},{"g":585,"v":3.89},{"g":595,"v":3.44},{"g":605,"v":4.12},{"g":615,"v":3.62},{"g":625,"v":4.04},{"g":635,"v":3.89},{"g":645,"v":3.87},{"g":655,"v":4.26},{"g":665,"v":3.81},{"g":675,"v":3.81},{"g":685,"v":3.81},{"g":695,"v":4.02},{"g":705,"v":4.04},{"g":715,"v":3.89},{"g":725,"v":3.98},{"g":735,"v":4.12},{"g":745,"v":4.22},{"g":755,"v":3.94},{"g":765,"v":3.81},{"g":775,"v":3.96},{"g":785,"v":4.12},{"g":795,"v":3.9},{"g":805,"v":4.43},{"g":815,"v":4.13},{"g":825,"v":4.01},{"g":835,"v":4.26},{"g":845,"v":4.13},{"g":855,"v":4.24},{"g":865,"v":4.01},{"g":875,"v":4.32},{"g":885,"v":4.15},{"g":895,"v":4.39},{"g":905,"v":4.31},{"g":915,"v":4.46},{"g":925,"v":4.13},{"g":935,"v":4.16},{"g":945,"v":3.97},{"g":955,"v":4.44},{"g":965,"v":4.05},{"g":975,"v":4.38},{"g":985,"v":4.65},{"g":995,"v":5.09},{"g":1005,"v":4.2},{"g":1015,"v":3.97},{"g":1025,"v":3.97},{"g":1035,"v":3.97},{"g":1045,"v":4.32},{"g":1055,"v":4.33},{"g":1065,"v":3.97},{"g":1075,"v":4.2},{"g":1085,"v":4.68},{"g":1095,"v":4.22},{"g":1105,"v":4.23},{"g":1115,"v":4.27},{"g":1125,"v":4.36},{"g":1135,"v":4.51},{"g":1145,"v":4.26},{"g":1155,"v":4.56},{"g":1165,"v":4.38},{"g":1175,"v":4.32},{"g":1185,"v":4.4},{"g":1195,"v":4.8},{"g":1205,"v":4.42},{"g":1215,"v":4.46},{"g":1225,"v":4.8},{"g":1235,"v":4.56},{"g":1245,"v":4.5},{"g":1255,"v":4.41},{"g":1265,"v":4.55},{"g":1275,"v":4.85},{"g":1285,"v":4.5},{"g":1295,"v":4.7},{"g":1305,"v":4.62},{"g":1315,"v":4.58},{"g":1325,"v":4.72},{"g":1335,"v":4.66},{"g":1345,"v":4.6},{"g":1355,"v":4.8},{"g":1365,"v":4.65},{"g":1375,"v":4.75},{"g":1385,"v":4.7},{"g":1395,"v":4.97},{"g":1405,"v":4.75},{"g":1415,"v":4.9},{"g":1425,"v":4.82},{"g":1435,"v":5.05},{"g":1445,"v":5.0},{"g":1455,"v":4.92},{"g":1465,"v":5.12},{"g":1475,"v":5.2},{"g":1485,"v":5.3},{"g":1495,"v":5.57},{"g":1505,"v":4.39},{"g":1515,"v":4.65},{"g":1525,"v":4.9},{"g":1535,"v":4.75},{"g":1545,"v":5.04},{"g":1555,"v":4.94},{"g":1565,"v":4.85},{"g":1575,"v":5.05},{"g":1585,"v":4.96},{"g":1595,"v":5.44},{"g":1605,"v":5.0},{"g":1615,"v":5.11},{"g":1625,"v":4.95},{"g":1635,"v":5.08},{"g":1645,"v":5.21},{"g":1655,"v":5.03},{"g":1665,"v":5.17},{"g":1675,"v":5.01},{"g":1685,"v":5.16},{"g":1695,"v":5.68},{"g":1705,"v":5.06},{"g":1715,"v":5.2},{"g":1725,"v":5.28},{"g":1735,"v":5.17},{"g":1745,"v":5.37},{"g":1755,"v":5.3},{"g":1765,"v":5.19},{"g":1775,"v":5.29},{"g":1785,"v":5.41},{"g":1795,"v":5.74},{"g":1805,"v":5.36},{"g":1815,"v":5.24},{"g":1825,"v":5.44},{"g":1835,"v":5.38},{"g":1845,"v":5.55},{"g":1855,"v":5.39},{"g":1865,"v":5.53},{"g":1875,"v":5.4},{"g":1885,"v":5.46},{"g":1895,"v":5.98},{"g":1905,"v":5.47},{"g":1915,"v":5.6},{"g":1925,"v":5.56},{"g":1935,"v":5.7},{"g":1945,"v":5.75},{"g":1955,"v":5.53},{"g":1965,"v":5.67},{"g":1975,"v":5.63},{"g":1985,"v":5.76},{"g":1995,"v":6.2},{"g":2005,"v":5.8},{"g":2015,"v":5.68},{"g":2025,"v":5.8},{"g":2035,"v":5.66},{"g":2045,"v":6.04},{"g":2055,"v":5.85},{"g":2065,"v":5.76},{"g":2075,"v":5.96},{"g":2085,"v":5.88},{"g":2095,"v":6.36},{"g":2105,"v":5.92},{"g":2115,"v":6.03},{"g":2125,"v":5.89},{"g":2135,"v":6.02},{"g":2145,"v":6.33},{"g":2155,"v":5.99},{"g":2165,"v":6.14},{"g":2175,"v":5.98},{"g":2185,"v":6.14},{"g":2195,"v":6.67},{"g":2205,"v":6.06},{"g":2215,"v":6.2},{"g":2225,"v":6.3},{"g":2235,"v":6.19},{"g":2245,"v":6.44},{"g":2255,"v":6.33},{"g":2265,"v":6.23},{"g":2275,"v":6.33},{"g":2285,"v":6.45},{"g":2295,"v":6.8},{"g":2305,"v":6.42},{"g":2315,"v":6.3},{"g":2325,"v":6.51},{"g":2335,"v":6.45},{"g":2345,"v":6.74},{"g":2355,"v":6.47},{"g":2365,"v":6.61},{"g":2375,"v":6.49},{"g":2385,"v":6.55},{"g":2395,"v":7.08},{"g":2405,"v":6.57},{"g":2415,"v":6.71},{"g":2425,"v":6.67},{"g":2435,"v":6.82},{"g":2445,"v":7.0},{"g":2455,"v":6.66},{"g":2465,"v":6.81},{"g":2475,"v":6.77},{"g":2485,"v":6.91},{"g":2495,"v":7.35},{"g":2505,"v":6.96},{"g":2515,"v":6.84},{"g":2525,"v":6.97},{"g":2535,"v":6.83},{"g":2545,"v":7.22},{"g":2555,"v":7.03},{"g":2565,"v":6.94},{"g":2575,"v":7.15},{"g":2585,"v":7.07},{"g":2595,"v":7.56},{"g":2605,"v":7.12},{"g":2615,"v":7.24},{"g":2625,"v":7.09},{"g":2635,"v":7.23},{"g":2645,"v":7.54},{"g":2655,"v":7.2},{"g":2665,"v":7.36},{"g":2675,"v":7.2},{"g":2685,"v":7.37},{"g":2695,"v":7.89},{"g":2705,"v":7.29},{"g":2715,"v":7.43},{"g":2725,"v":7.53},{"g":2735,"v":7.42},{"g":2745,"v":7.68},{"g":2755,"v":7.56},{"g":2765,"v":7.46}],
"y2003":[{"g":555,"v":4.05},{"g":565,"v":3.93},{"g":575,"v":3.72},{"g":585,"v":4.12},{"g":595,"v":3.96},{"g":605,"v":4.21},{"g":615,"v":3.64},{"g":625,"v":3.91},{"g":635,"v":3.93},{"g":645,"v":3.64},{"g":655,"v":4.05},{"g":665,"v":4.15},{"g":675,"v":3.96},{"g":685,"v":3.91},{"g":695,"v":4.03},{"g":705,"v":4.29},{"g":715,"v":3.86},{"g":725,"v":4.12},{"g":735,"v":4.15},{"g":745,"v":4.4},{"g":755,"v":3.78},{"g":765,"v":3.66},{"g":775,"v":3.95},{"g":785,"v":4.04},{"g":795,"v":4.21},{"g":805,"v":4.29},{"g":815,"v":4.06},{"g":825,"v":4.21},{"g":835,"v":3.97},{"g":845,"v":4.1},{"g":855,"v":4.13},{"g":865,"v":4.04},{"g":875,"v":3.95},{"g":885,"v":4.1},{"g":895,"v":4.61},{"g":905,"v":3.75},{"g":915,"v":4.13},{"g":925,"v":3.9},{"g":935,"v":4.18},{"g":945,"v":4.23},{"g":955,"v":4.55},{"g":965,"v":4.35},{"g":975,"v":4.68},{"g":985,"v":4.85},{"g":995,"v":5.13},{"g":1005,"v":3.84},{"g":1015,"v":3.44},{"g":1025,"v":3.86},{"g":1035,"v":3.92},{"g":1045,"v":4.22},{"g":1055,"v":4.18},{"g":1065,"v":4.23},{"g":1075,"v":4.25},{"g":1085,"v":4.2},{"g":1095,"v":4.8},{"g":1105,"v":4.32},{"g":1115,"v":4.34},{"g":1125,"v":4.28},{"g":1135,"v":4.7},{"g":1145,"v":4.3},{"g":1155,"v":4.4},{"g":1165,"v":4.52},{"g":1175,"v":4.4},{"g":1185,"v":4.5},{"g":1195,"v":4.65},{"g":1205,"v":4.25},{"g":1215,"v":4.55},{"g":1225,"v":4.45},{"g":1235,"v":4.62},{"g":1245,"v":4.57},{"g":1255,"v":4.4},{"g":1265,"v":4.48},{"g":1275,"v":4.52},{"g":1285,"v":4.62},{"g":1295,"v":4.91},{"g":1305,"v":4.6},{"g":1315,"v":4.5},{"g":1325,"v":4.72},{"g":1335,"v":4.6},{"g":1345,"v":4.78},{"g":1355,"v":4.65},{"g":1365,"v":4.82},{"g":1375,"v":4.7},{"g":1385,"v":4.85},{"g":1395,"v":4.98},{"g":1405,"v":4.72},{"g":1415,"v":4.88},{"g":1425,"v":4.8},{"g":1435,"v":5.0},{"g":1445,"v":4.9},{"g":1455,"v":5.1},{"g":1465,"v":5.2},{"g":1475,"v":5.3},{"g":1485,"v":5.42},{"g":1495,"v":5.68},{"g":1505,"v":4.49},{"g":1515,"v":4.23},{"g":1525,"v":4.45},{"g":1535,"v":4.66},{"g":1545,"v":5.06},{"g":1555,"v":4.88},{"g":1565,"v":5.02},{"g":1575,"v":4.86},{"g":1585,"v":5.01},{"g":1595,"v":5.53},{"g":1605,"v":4.91},{"g":1615,"v":5.05},{"g":1625,"v":5.14},{"g":1635,"v":5.02},{"g":1645,"v":5.22},{"g":1655,"v":5.15},{"g":1665,"v":5.05},{"g":1675,"v":5.15},{"g":1685,"v":5.26},{"g":1695,"v":5.6},{"g":1705,"v":5.22},{"g":1715,"v":5.1},{"g":1725,"v":5.3},{"g":1735,"v":5.23},{"g":1745,"v":5.4},{"g":1755,"v":5.24},{"g":1765,"v":5.38},{"g":1775,"v":5.25},{"g":1785,"v":5.3},{"g":1795,"v":5.82},{"g":1805,"v":5.31},{"g":1815,"v":5.44},{"g":1825,"v":5.4},{"g":1835,"v":5.54},{"g":1845,"v":5.59},{"g":1855,"v":5.37},{"g":1865,"v":5.51},{"g":1875,"v":5.47},{"g":1885,"v":5.6},{"g":1895,"v":6.04},{"g":1905,"v":5.64},{"g":1915,"v":5.52},{"g":1925,"v":5.64},{"g":1935,"v":5.5},{"g":1945,"v":5.79},{"g":1955,"v":5.69},{"g":1965,"v":5.59},{"g":1975,"v":5.79},{"g":1985,"v":5.71},{"g":1995,"v":6.19},{"g":2005,"v":5.75},{"g":2015,"v":5.86},{"g":2025,"v":5.71},{"g":2035,"v":5.84},{"g":2045,"v":6.15},{"g":2055,"v":5.8},{"g":2065,"v":5.95},{"g":2075,"v":5.79},{"g":2085,"v":5.95},{"g":2095,"v":6.47},{"g":2105,"v":5.86},{"g":2115,"v":6.0},{"g":2125,"v":6.1},{"g":2135,"v":5.99},{"g":2145,"v":6.24},{"g":2155,"v":6.13},{"g":2165,"v":6.03},{"g":2175,"v":6.13},{"g":2185,"v":6.25},{"g":2195,"v":6.6},{"g":2205,"v":6.22},{"g":2215,"v":6.1},{"g":2225,"v":6.3},{"g":2235,"v":6.25},{"g":2245,"v":6.53},{"g":2255,"v":6.26},{"g":2265,"v":6.4},{"g":2275,"v":6.27},{"g":2285,"v":6.34},{"g":2295,"v":6.86},{"g":2305,"v":6.35},{"g":2315,"v":6.49},{"g":2325,"v":6.45},{"g":2335,"v":6.6},{"g":2345,"v":6.78},{"g":2355,"v":6.44},{"g":2365,"v":6.58},{"g":2375,"v":6.55},{"g":2385,"v":6.68},{"g":2395,"v":7.13},{"g":2405,"v":6.73},{"g":2415,"v":6.62},{"g":2425,"v":6.74},{"g":2435,"v":6.61},{"g":2445,"v":6.99},{"g":2455,"v":6.81},{"g":2465,"v":6.72},{"g":2475,"v":6.93},{"g":2485,"v":6.85},{"g":2495,"v":7.34},{"g":2505,"v":6.9},{"g":2515,"v":7.02},{"g":2525,"v":6.87},{"g":2535,"v":7.01},{"g":2545,"v":7.32},{"g":2555,"v":6.98},{"g":2565,"v":7.13},{"g":2575,"v":6.98},{"g":2585,"v":7.14},{"g":2595,"v":7.67},{"g":2605,"v":7.06},{"g":2615,"v":7.21},{"g":2625,"v":7.3},{"g":2635,"v":7.2},{"g":2645,"v":7.45},{"g":2655,"v":7.34},{"g":2665,"v":7.24},{"g":2675,"v":7.35},{"g":2685,"v":7.47},{"g":2695,"v":7.95},{"g":2705,"v":7.44},{"g":2715,"v":7.32},{"g":2725,"v":7.52},{"g":2735,"v":7.47},{"g":2745,"v":7.75},{"g":2755,"v":7.48},{"g":2765,"v":7.62}],
"y2004":[{"g":555,"v":3.72},{"g":565,"v":4.19},{"g":575,"v":3.99},{"g":585,"v":3.91},{"g":595,"v":4.17},{"g":605,"v":4.13},{"g":615,"v":3.98},{"g":625,"v":3.98},{"g":635,"v":3.79},{"g":645,"v":4.07},{"g":655,"v":4.19},{"g":665,"v":3.93},{"g":675,"v":3.9},{"g":685,"v":4.04},{"g":695,"v":3.93},{"g":705,"v":4.22},{"g":715,"v":4.07},{"g":725,"v":4.16},{"g":735,"v":4.28},{"g":745,"v":4.65},{"g":755,"v":3.77},{"g":765,"v":3.85},{"g":775,"v":3.9},{"g":785,"v":3.6},{"g":795,"v":3.95},{"g":805,"v":4.22},{"g":815,"v":3.96},{"g":825,"v":4.21},{"g":835,"v":4.12},{"g":845,"v":3.97},{"g":855,"v":4.33},{"g":865,"v":3.95},{"g":875,"v":4.28},{"g":885,"v":4.02},{"g":895,"v":3.94},{"g":905,"v":4.8},{"g":915,"v":4.15},{"g":925,"v":4.04},{"g":935,"v":4.28},{"g":945,"v":4.13},{"g":955,"v":4.38},{"g":965,"v":4.52},{"g":975,"v":4.57},{"g":985,"v":4.96},{"g":995,"v":5.43},{"g":1005,"v":3.43},{"g":1015,"v":3.02},{"g":1025,"v":3.68},{"g":1035,"v":3.75},{"g":1045,"v":4.07},{"g":1055,"v":4.36},{"g":1065,"v":4.42},{"g":1075,"v":4.44},{"g":1085,"v":4.42},{"g":1095,"v":4.92},{"g":1105,"v":4.26},{"g":1115,"v":4.2},{"g":1125,"v":4.38},{"g":1135,"v":3.96},{"g":1145,"v":4.34},{"g":1155,"v":4.51},{"g":1165,"v":4.34},{"g":1175,"v":4.5},{"g":1185,"v":4.45},{"g":1195,"v":4.92},{"g":1205,"v":4.42},{"g":1215,"v":4.36},{"g":1225,"v":4.5},{"g":1235,"v":4.6},{"g":1245,"v":5.07},{"g":1255,"v":4.3},{"g":1265,"v":4.3},{"g":1275,"v":4.45},{"g":1285,"v":4.55},{"g":1295,"v":5.07},{"g":1305,"v":4.77},{"g":1315,"v":4.6},{"g":1325,"v":4.7},{"g":1335,"v":4.65},{"g":1345,"v":4.72},{"g":1355,"v":4.6},{"g":1365,"v":4.78},{"g":1375,"v":4.68},{"g":1385,"v":4.9},{"g":1395,"v":5.05},{"g":1405,"v":4.75},{"g":1415,"v":4.88},{"g":1425,"v":4.72},{"g":1435,"v":4.95},{"g":1445,"v":5.05},{"g":1455,"v":4.85},{"g":1465,"v":5.1},{"g":1475,"v":5.2},{"g":1485,"v":5.39},{"g":1495,"v":6.0},{"g":1505,"v":4.34},{"g":1515,"v":3.73},{"g":1525,"v":4.39},{"g":1535,"v":4.45},{"g":1545,"v":4.65},{"g":1555,"v":5.06},{"g":1565,"v":4.96},{"g":1575,"v":5.05},{"g":1585,"v":5.17},{"g":1595,"v":5.5},{"g":1605,"v":5.12},{"g":1615,"v":5.0},{"g":1625,"v":5.19},{"g":1635,"v":5.13},{"g":1645,"v":5.3},{"g":1655,"v":5.14},{"g":1665,"v":5.27},{"g":1675,"v":5.14},{"g":1685,"v":5.2},{"g":1695,"v":5.71},{"g":1705,"v":5.2},{"g":1715,"v":5.33},{"g":1725,"v":5.28},{"g":1735,"v":5.42},{"g":1745,"v":5.47},{"g":1755,"v":5.25},{"g":1765,"v":5.38},{"g":1775,"v":5.34},{"g":1785,"v":5.47},{"g":1795,"v":5.9},{"g":1805,"v":5.5},{"g":1815,"v":5.38},{"g":1825,"v":5.5},{"g":1835,"v":5.36},{"g":1845,"v":5.65},{"g":1855,"v":5.55},{"g":1865,"v":5.46},{"g":1875,"v":5.66},{"g":1885,"v":5.58},{"g":1895,"v":6.06},{"g":1905,"v":5.62},{"g":1915,"v":5.73},{"g":1925,"v":5.58},{"g":1935,"v":5.7},{"g":1945,"v":5.84},{"g":1955,"v":5.66},{"g":1965,"v":5.81},{"g":1975,"v":5.65},{"g":1985,"v":5.8},{"g":1995,"v":6.32},{"g":2005,"v":5.71},{"g":2015,"v":5.85},{"g":2025,"v":5.94},{"g":2035,"v":5.83},{"g":2045,"v":6.08},{"g":2055,"v":5.96},{"g":2065,"v":5.86},{"g":2075,"v":5.96},{"g":2085,"v":6.08},{"g":2095,"v":6.42},{"g":2105,"v":6.04},{"g":2115,"v":5.92},{"g":2125,"v":6.12},{"g":2135,"v":6.07},{"g":2145,"v":6.35},{"g":2155,"v":6.08},{"g":2165,"v":6.22},{"g":2175,"v":6.09},{"g":2185,"v":6.16},{"g":2195,"v":6.68},{"g":2205,"v":6.17},{"g":2215,"v":6.3},{"g":2225,"v":6.27},{"g":2235,"v":6.41},{"g":2245,"v":6.59},{"g":2255,"v":6.25},{"g":2265,"v":6.39},{"g":2275,"v":6.35},{"g":2285,"v":6.48},{"g":2295,"v":6.93},{"g":2305,"v":6.53},{"g":2315,"v":6.42},{"g":2325,"v":6.54},{"g":2335,"v":6.41},{"g":2345,"v":6.79},{"g":2355,"v":6.61},{"g":2365,"v":6.52},{"g":2375,"v":6.73},{"g":2385,"v":6.65},{"g":2395,"v":7.14},{"g":2405,"v":6.7},{"g":2415,"v":6.82},{"g":2425,"v":6.67},{"g":2435,"v":6.81},{"g":2445,"v":7.12},{"g":2455,"v":6.78},{"g":2465,"v":6.93},{"g":2475,"v":6.78},{"g":2485,"v":6.94},{"g":2495,"v":7.47},{"g":2505,"v":6.86},{"g":2515,"v":7.01},{"g":2525,"v":7.1},{"g":2535,"v":7.0},{"g":2545,"v":7.25},{"g":2555,"v":7.14},{"g":2565,"v":7.04},{"g":2575,"v":7.15},{"g":2585,"v":7.27},{"g":2595,"v":7.62},{"g":2605,"v":7.24},{"g":2615,"v":7.12},{"g":2625,"v":7.32},{"g":2635,"v":7.27},{"g":2645,"v":7.55},{"g":2655,"v":7.28},{"g":2665,"v":7.42},{"g":2675,"v":7.29},{"g":2685,"v":7.36},{"g":2695,"v":7.88},{"g":2705,"v":7.37},{"g":2715,"v":7.5},{"g":2725,"v":7.47},{"g":2735,"v":7.61},{"g":2745,"v":7.79},{"g":2755,"v":7.45},{"g":2765,"v":7.59}],
"y2005":[{"g":555,"v":3.99},{"g":565,"v":4.44},{"g":575,"v":3.83},{"g":585,"v":4.04},{"g":595,"v":4.36},{"g":605,"v":3.99},{"g":615,"v":3.66},{"g":625,"v":3.99},{"g":635,"v":3.93},{"g":645,"v":4.04},{"g":655,"v":4.23},{"g":665,"v":3.74},{"g":675,"v":4.01},{"g":685,"v":4.07},{"g":695,"v":4.14},{"g":705,"v":4.18},{"g":715,"v":3.95},{"g":725,"v":4.17},{"g":735,"v":4.33},{"g":745,"v":4.98},{"g":755,"v":3.3},{"g":765,"v":3.59},{"g":775,"v":3.96},{"g":785,"v":3.99},{"g":795,"v":4.16},{"g":805,"v":4.35},{"g":815,"v":3.83},{"g":825,"v":3.98},{"g":835,"v":3.83},{"g":845,"v":3.94},{"g":855,"v":4.14},{"g":865,"v":3.98},{"g":875,"v":4.01},{"g":885,"v":3.94},{"g":895,"v":3.85},{"g":905,"v":4.54},{"g":915,"v":3.91},{"g":925,"v":3.9},{"g":935,"v":3.77},{"g":945,"v":4.23},{"g":955,"v":4.45},{"g":965,"v":4.34},{"g":975,"v":4.21},{"g":985,"v":4.89},{"g":995,"v":5.32},{"g":1005,"v":2.89},{"g":1015,"v":3.14},{"g":1025,"v":3.59},{"g":1035,"v":3.47},{"g":1045,"v":3.85},{"g":1055,"v":4.1},{"g":1065,"v":4.0},{"g":1075,"v":4.15},{"g":1085,"v":3.8},{"g":1095,"v":4.78},{"g":1105,"v":4.14},{"g":1115,"v":4.23},{"g":1125,"v":4.38},{"g":1135,"v":4.28},{"g":1145,"v":4.03},{"g":1155,"v":4.38},{"g":1165,"v":4.2},{"g":1175,"v":4.3},{"g":1185,"v":4.45},{"g":1195,"v":4.9},{"g":1205,"v":4.3},{"g":1215,"v":4.45},{"g":1225,"v":4.62},{"g":1235,"v":4.5},{"g":1245,"v":5.08},{"g":1255,"v":3.96},{"g":1265,"v":4.1},{"g":1275,"v":4.38},{"g":1285,"v":4.3},{"g":1295,"v":4.87},{"g":1305,"v":4.3},{"g":1315,"v":4.52},{"g":1325,"v":4.6},{"g":1335,"v":4.48},{"g":1345,"v":4.65},{"g":1355,"v":4.55},{"g":1365,"v":4.7},{"g":1375,"v":4.62},{"g":1385,"v":4.8},{"g":1395,"v":4.96},{"g":1405,"v":4.7},{"g":1415,"v":4.85},{"g":1425,"v":4.68},{"g":1435,"v":4.9},{"g":1445,"v":5.02},{"g":1455,"v":4.88},{"g":1465,"v":5.1},{"g":1475,"v":5.2},{"g":1485,"v":5.6},{"g":1495,"v":5.98},{"g":1505,"v":3.99},{"g":1515,"v":3.59},{"g":1525,"v":4.15},{"g":1535,"v":4.36},{"g":1545,"v":4.5},{"g":1555,"v":4.6},{"g":1565,"v":4.72},{"g":1575,"v":4.92},{"g":1585,"v":4.98},{"g":1595,"v":5.51},{"g":1605,"v":5.0},{"g":1615,"v":5.13},{"g":1625,"v":5.08},{"g":1635,"v":5.22},{"g":1645,"v":5.27},{"g":1655,"v":5.05},{"g":1665,"v":5.18},{"g":1675,"v":5.14},{"g":1685,"v":5.27},{"g":1695,"v":5.7},{"g":1705,"v":5.3},{"g":1715,"v":5.18},{"g":1725,"v":5.3},{"g":1735,"v":5.16},{"g":1745,"v":5.45},{"g":1755,"v":5.35},{"g":1765,"v":5.26},{"g":1775,"v":5.46},{"g":1785,"v":5.38},{"g":1795,"v":5.86},{"g":1805,"v":5.42},{"g":1815,"v":5.53},{"g":1825,"v":5.38},{"g":1835,"v":5.51},{"g":1845,"v":5.65},{"g":1855,"v":5.47},{"g":1865,"v":5.62},{"g":1875,"v":5.46},{"g":1885,"v":5.62},{"g":1895,"v":6.14},{"g":1905,"v":5.53},{"g":1915,"v":5.67},{"g":1925,"v":5.76},{"g":1935,"v":5.65},{"g":1945,"v":5.85},{"g":1955,"v":5.78},{"g":1965,"v":5.68},{"g":1975,"v":5.78},{"g":1985,"v":5.9},{"g":1995,"v":6.22},{"g":2005,"v":5.37},{"g":2015,"v":5.5},{"g":2025,"v":5.92},{"g":2035,"v":5.88},{"g":2045,"v":6.16},{"g":2055,"v":5.89},{"g":2065,"v":6.03},{"g":2075,"v":5.9},{"g":2085,"v":5.96},{"g":2095,"v":6.48},{"g":2105,"v":5.97},{"g":2115,"v":6.1},{"g":2125,"v":6.07},{"g":2135,"v":6.21},{"g":2145,"v":6.39},{"g":2155,"v":6.05},{"g":2165,"v":6.19},{"g":2175,"v":6.15},{"g":2185,"v":6.28},{"g":2195,"v":6.73},{"g":2205,"v":6.33},{"g":2215,"v":6.21},{"g":2225,"v":6.33},{"g":2235,"v":6.2},{"g":2245,"v":6.58},{"g":2255,"v":6.39},{"g":2265,"v":6.3},{"g":2275,"v":6.5},{"g":2285,"v":6.43},{"g":2295,"v":6.91},{"g":2305,"v":6.47},{"g":2315,"v":6.59},{"g":2325,"v":6.44},{"g":2335,"v":6.58},{"g":2345,"v":6.89},{"g":2355,"v":6.55},{"g":2365,"v":6.7},{"g":2375,"v":6.55},{"g":2385,"v":6.71},{"g":2395,"v":7.24},{"g":2405,"v":6.63},{"g":2415,"v":6.77},{"g":2425,"v":6.87},{"g":2435,"v":6.76},{"g":2445,"v":7.02},{"g":2455,"v":6.9},{"g":2465,"v":6.8},{"g":2475,"v":6.91},{"g":2485,"v":7.03},{"g":2495,"v":7.38},{"g":2505,"v":7.0},{"g":2515,"v":6.88},{"g":2525,"v":7.09},{"g":2535,"v":7.03},{"g":2545,"v":7.32},{"g":2555,"v":7.05},{"g":2565,"v":7.19},{"g":2575,"v":7.07},{"g":2585,"v":7.13},{"g":2595,"v":7.66},{"g":2605,"v":7.15},{"g":2615,"v":7.28},{"g":2625,"v":7.24},{"g":2635,"v":7.39},{"g":2645,"v":7.57},{"g":2655,"v":7.22},{"g":2665,"v":7.36},{"g":2675,"v":7.32},{"g":2685,"v":7.46},{"g":2695,"v":7.86},{"g":2705,"v":7.5},{"g":2715,"v":7.38},{"g":2725,"v":7.5},{"g":2735,"v":7.36},{"g":2745,"v":7.74},{"g":2755,"v":7.55},{"g":2765,"v":7.46}],
"y2006":[{"g":555,"v":3.74},{"g":565,"v":4.06},{"g":575,"v":3.72},{"g":585,"v":3.94},{"g":595,"v":4.14},{"g":605,"v":4.14},{"g":615,"v":3.87},{"g":625,"v":3.72},{"g":635,"v":3.91},{"g":645,"v":4.23},{"g":655,"v":4.15},{"g":665,"v":3.83},{"g":675,"v":3.81},{"g":685,"v":3.94},{"g":695,"v":3.99},{"g":705,"v":4.31},{"g":715,"v":3.81},{"g":725,"v":3.98},{"g":735,"v":4.23},{"g":745,"v":4.89},{"g":755,"v":3.3},{"g":765,"v":3.47},{"g":775,"v":4.02},{"g":785,"v":3.85},{"g":795,"v":4.01},{"g":805,"v":4.4},{"g":815,"v":3.82},{"g":825,"v":3.81},{"g":835,"v":3.94},{"g":845,"v":4.31},{"g":855,"v":3.94},{"g":865,"v":4.06},{"g":875,"v":4.1},{"g":885,"v":3.81},{"g":895,"v":4.06},{"g":905,"v":4.37},{"g":915,"v":4.0},{"g":925,"v":4.19},{"g":935,"v":4.17},{"g":945,"v":4.35},{"g":955,"v":4.56},{"g":965,"v":4.18},{"g":975,"v":4.32},{"g":985,"v":5.0},{"g":995,"v":5.28},{"g":1005,"v":2.72},{"g":1015,"v":2.79},{"g":1025,"v":3.63},{"g":1035,"v":3.7},{"g":1045,"v":3.87},{"g":1055,"v":3.94},{"g":1065,"v":4.05},{"g":1075,"v":4.19},{"g":1085,"v":4.35},{"g":1095,"v":4.52},{"g":1105,"v":4.1},{"g":1115,"v":4.37},{"g":1125,"v":4.44},{"g":1135,"v":4.4},{"g":1145,"v":4.38},{"g":1155,"v":4.48},{"g":1165,"v":4.15},{"g":1175,"v":4.5},{"g":1185,"v":4.42},{"g":1195,"v":4.72},{"g":1205,"v":4.37},{"g":1215,"v":4.58},{"g":1225,"v":4.79},{"g":1235,"v":4.55},{"g":1245,"v":5.26},{"g":1255,"v":4.1},{"g":1265,"v":3.98},{"g":1275,"v":3.98},{"g":1285,"v":4.4},{"g":1295,"v":4.81},{"g":1305,"v":4.36},{"g":1315,"v":4.43},{"g":1325,"v":4.52},{"g":1335,"v":4.68},{"g":1345,"v":4.52},{"g":1355,"v":4.57},{"g":1365,"v":4.62},{"g":1375,"v":4.5},{"g":1385,"v":4.7},{"g":1395,"v":5.0},{"g":1405,"v":4.58},{"g":1415,"v":4.66},{"g":1425,"v":4.52},{"g":1435,"v":5.0},{"g":1445,"v":4.62},{"g":1455,"v":4.85},{"g":1465,"v":4.9},{"g":1475,"v":5.1},{"g":1485,"v":5.5},{"g":1495,"v":5.95},{"g":1505,"v":3.78},{"g":1515,"v":3.46},{"g":1525,"v":3.95},{"g":1535,"v":4.09},{"g":1545,"v":4.22},{"g":1555,"v":4.46},{"g":1565,"v":4.63},{"g":1575,"v":4.85},{"g":1585,"v":5.08},{"g":1595,"v":5.21},{"g":1605,"v":5.13},{"g":1615,"v":5.01},{"g":1625,"v":5.12},{"g":1635,"v":4.98},{"g":1645,"v":5.27},{"g":1655,"v":5.17},{"g":1665,"v":5.07},{"g":1675,"v":5.27},{"g":1685,"v":5.19},{"g":1695,"v":5.66},{"g":1705,"v":5.22},{"g":1715,"v":5.33},{"g":1725,"v":5.18},{"g":1735,"v":5.31},{"g":1745,"v":5.45},{"g":1755,"v":5.27},{"g":1765,"v":5.42},{"g":1775,"v":5.26},{"g":1785,"v":5.42},{"g":1795,"v":5.94},{"g":1805,"v":5.33},{"g":1815,"v":5.47},{"g":1825,"v":5.56},{"g":1835,"v":5.44},{"g":1845,"v":5.64},{"g":1855,"v":5.57},{"g":1865,"v":5.47},{"g":1875,"v":5.57},{"g":1885,"v":5.68},{"g":1895,"v":6.02},{"g":1905,"v":5.64},{"g":1915,"v":5.52},{"g":1925,"v":5.72},{"g":1935,"v":5.66},{"g":1945,"v":5.83},{"g":1955,"v":5.67},{"g":1965,"v":5.81},{"g":1975,"v":5.68},{"g":1985,"v":6.07},{"g":1995,"v":6.29},{"g":2005,"v":5.36},{"g":2015,"v":5.48},{"g":2025,"v":5.84},{"g":2035,"v":5.98},{"g":2045,"v":6.16},{"g":2055,"v":5.81},{"g":2065,"v":5.95},{"g":2075,"v":5.91},{"g":2085,"v":6.04},{"g":2095,"v":6.48},{"g":2105,"v":6.08},{"g":2115,"v":5.96},{"g":2125,"v":6.08},{"g":2135,"v":5.95},{"g":2145,"v":6.33},{"g":2155,"v":6.14},{"g":2165,"v":6.05},{"g":2175,"v":6.25},{"g":2185,"v":6.18},{"g":2195,"v":6.66},{"g":2205,"v":6.22},{"g":2215,"v":6.33},{"g":2225,"v":6.19},{"g":2235,"v":6.32},{"g":2245,"v":6.63},{"g":2255,"v":6.29},{"g":2265,"v":6.44},{"g":2275,"v":6.28},{"g":2285,"v":6.44},{"g":2295,"v":6.97},{"g":2305,"v":6.36},{"g":2315,"v":6.51},{"g":2325,"v":6.6},{"g":2335,"v":6.5},{"g":2345,"v":6.75},{"g":2355,"v":6.64},{"g":2365,"v":6.54},{"g":2375,"v":6.65},{"g":2385,"v":6.77},{"g":2395,"v":7.12},{"g":2405,"v":6.74},{"g":2415,"v":6.63},{"g":2425,"v":6.83},{"g":2435,"v":6.78},{"g":2445,"v":7.06},{"g":2455,"v":6.8},{"g":2465,"v":6.94},{"g":2475,"v":6.82},{"g":2485,"v":6.88},{"g":2495,"v":7.41},{"g":2505,"v":6.9},{"g":2515,"v":7.04},{"g":2525,"v":7.0},{"g":2535,"v":7.15},{"g":2545,"v":7.33},{"g":2555,"v":6.99},{"g":2565,"v":7.13},{"g":2575,"v":7.1},{"g":2585,"v":7.23},{"g":2595,"v":7.68},{"g":2605,"v":7.28},{"g":2615,"v":7.16},{"g":2625,"v":7.28},{"g":2635,"v":7.15},{"g":2645,"v":7.53},{"g":2655,"v":7.34},{"g":2665,"v":7.25},{"g":2675,"v":7.45},{"g":2685,"v":7.38},{"g":2695,"v":7.8},{"g":2705,"v":7.42},{"g":2715,"v":7.53},{"g":2725,"v":7.38},{"g":2735,"v":7.51},{"g":2745,"v":7.7},{"g":2755,"v":7.47},{"g":2765,"v":7.62}],
"y2007":[{"g":555,"v":4.04},{"g":565,"v":3.99},{"g":575,"v":3.88},{"g":585,"v":3.97},{"g":595,"v":4.31},{"g":605,"v":4.18},{"g":615,"v":3.9},{"g":625,"v":3.99},{"g":635,"v":3.85},{"g":645,"v":4.04},{"g":655,"v":3.72},{"g":665,"v":3.91},{"g":675,"v":4.06},{"g":685,"v":3.99},{"g":695,"v":4.2},{"g":705,"v":3.79},{"g":715,"v":4.1},{"g":725,"v":4.18},{"g":735,"v":4.22},{"g":745,"v":4.87},{"g":755,"v":3.54},{"g":765,"v":3.44},{"g":775,"v":3.9},{"g":785,"v":3.76},{"g":795,"v":4.36},{"g":805,"v":4.22},{"g":815,"v":3.89},{"g":825,"v":4.1},{"g":835,"v":4.13},{"g":845,"v":4.39},{"g":855,"v":3.89},{"g":865,"v":3.76},{"g":875,"v":4.14},{"g":885,"v":3.96},{"g":895,"v":4.36},{"g":905,"v":4.15},{"g":915,"v":3.97},{"g":925,"v":4.2},{"g":935,"v":4.39},{"g":945,"v":4.19},{"g":955,"v":4.34},{"g":965,"v":4.34},{"g":975,"v":4.31},{"g":985,"v":5.1},{"g":995,"v":5.43},{"g":1005,"v":2.71},{"g":1015,"v":2.64},{"g":1025,"v":3.4},{"g":1035,"v":3.68},{"g":1045,"v":4.05},{"g":1055,"v":3.94},{"g":1065,"v":4.05},{"g":1075,"v":4.13},{"g":1085,"v":4.16},{"g":1095,"v":4.63},{"g":1105,"v":4.58},{"g":1115,"v":4.4},{"g":1125,"v":4.31},{"g":1135,"v":4.59},{"g":1145,"v":4.08},{"g":1155,"v":4.24},{"g":1165,"v":4.27},{"g":1175,"v":4.45},{"g":1185,"v":4.3},{"g":1195,"v":4.63},{"g":1205,"v":4.32},{"g":1215,"v":4.59},{"g":1225,"v":4.48},{"g":1235,"v":4.62},{"g":1245,"v":5.2},{"g":1255,"v":4.04},{"g":1265,"v":4.08},{"g":1275,"v":4.28},{"g":1285,"v":4.25},{"g":1295,"v":4.81},{"g":1305,"v":4.57},{"g":1315,"v":4.7},{"g":1325,"v":4.52},{"g":1335,"v":4.6},{"g":1345,"v":4.85},{"g":1355,"v":4.7},{"g":1365,"v":4.62},{"g":1375,"v":4.78},{"g":1385,"v":4.66},{"g":1395,"v":5.13},{"g":1405,"v":4.7},{"g":1415,"v":4.75},{"g":1425,"v":4.88},{"g":1435,"v":5.05},{"g":1445,"v":4.82},{"g":1455,"v":5.1},{"g":1465,"v":5.2},{"g":1475,"v":5.3},{"g":1485,"v":5.71},{"g":1495,"v":6.04},{"g":1505,"v":3.54},{"g":1515,"v":3.44},{"g":1525,"v":4.04},{"g":1535,"v":4.0},{"g":1545,"v":4.4},{"g":1555,"v":4.65},{"g":1565,"v":4.88},{"g":1575,"v":5.08},{"g":1585,"v":5.0},{"g":1595,"v":5.28},{"g":1605,"v":5.05},{"g":1615,"v":5.16},{"g":1625,"v":5.0},{"g":1635,"v":5.13},{"g":1645,"v":5.27},{"g":1655,"v":5.09},{"g":1665,"v":5.23},{"g":1675,"v":5.07},{"g":1685,"v":5.23},{"g":1695,"v":5.74},{"g":1705,"v":5.13},{"g":1715,"v":5.27},{"g":1725,"v":5.36},{"g":1735,"v":5.24},{"g":1745,"v":5.44},{"g":1755,"v":5.37},{"g":1765,"v":5.27},{"g":1775,"v":5.37},{"g":1785,"v":5.48},{"g":1795,"v":5.82},{"g":1805,"v":5.44},{"g":1815,"v":5.32},{"g":1825,"v":5.52},{"g":1835,"v":5.45},{"g":1845,"v":5.62},{"g":1855,"v":5.46},{"g":1865,"v":5.6},{"g":1875,"v":5.47},{"g":1885,"v":5.52},{"g":1895,"v":6.04},{"g":1905,"v":5.53},{"g":1915,"v":5.66},{"g":1925,"v":5.61},{"g":1935,"v":5.75},{"g":1945,"v":5.8},{"g":1955,"v":5.58},{"g":1965,"v":5.71},{"g":1975,"v":5.67},{"g":1985,"v":6.14},{"g":1995,"v":6.39},{"g":2005,"v":5.14},{"g":2015,"v":5.71},{"g":2025,"v":5.83},{"g":2035,"v":5.69},{"g":2045,"v":6.07},{"g":2055,"v":5.88},{"g":2065,"v":5.79},{"g":2075,"v":5.99},{"g":2085,"v":5.91},{"g":2095,"v":6.39},{"g":2105,"v":5.95},{"g":2115,"v":6.07},{"g":2125,"v":5.92},{"g":2135,"v":6.06},{"g":2145,"v":6.37},{"g":2155,"v":6.03},{"g":2165,"v":6.18},{"g":2175,"v":6.03},{"g":2185,"v":6.19},{"g":2195,"v":6.72},{"g":2205,"v":6.11},{"g":2215,"v":6.25},{"g":2225,"v":6.34},{"g":2235,"v":6.24},{"g":2245,"v":6.49},{"g":2255,"v":6.37},{"g":2265,"v":6.27},{"g":2275,"v":6.37},{"g":2285,"v":6.5},{"g":2295,"v":6.84},{"g":2305,"v":6.46},{"g":2315,"v":6.34},{"g":2325,"v":6.55},{"g":2335,"v":6.49},{"g":2345,"v":6.78},{"g":2355,"v":6.51},{"g":2365,"v":6.65},{"g":2375,"v":6.53},{"g":2385,"v":6.59},{"g":2395,"v":7.12},{"g":2405,"v":6.61},{"g":2415,"v":6.75},{"g":2425,"v":6.71},{"g":2435,"v":6.86},{"g":2445,"v":7.04},{"g":2455,"v":6.7},{"g":2465,"v":6.85},{"g":2475,"v":6.81},{"g":2485,"v":6.95},{"g":2495,"v":7.39},{"g":2505,"v":7.0},{"g":2515,"v":6.89},{"g":2525,"v":7.01},{"g":2535,"v":6.88},{"g":2545,"v":7.26},{"g":2555,"v":7.08},{"g":2565,"v":7.0},{"g":2575,"v":7.2},{"g":2585,"v":7.13},{"g":2595,"v":7.61},{"g":2605,"v":7.18},{"g":2615,"v":7.29},{"g":2625,"v":7.14},{"g":2635,"v":7.28},{"g":2645,"v":7.59},{"g":2655,"v":7.24},{"g":2665,"v":7.39},{"g":2675,"v":7.23},{"g":2685,"v":7.4},{"g":2695,"v":7.77},{"g":2705,"v":7.31},{"g":2715,"v":7.45},{"g":2725,"v":7.54},{"g":2735,"v":7.43},{"g":2745,"v":7.68},{"g":2755,"v":7.56},{"g":2765,"v":7.46}],
"y2008":[{"g":555,"v":4.05},{"g":565,"v":4.1},{"g":575,"v":3.7},{"g":585,"v":3.65},{"g":595,"v":4.3},{"g":605,"v":3.5},{"g":615,"v":3.95},{"g":625,"v":3.85},{"g":635,"v":3.9},{"g":645,"v":4.0},{"g":655,"v":3.8},{"g":665,"v":3.95},{"g":675,"v":4.1},{"g":685,"v":4.05},{"g":695,"v":4.12},{"g":705,"v":4.08},{"g":715,"v":4.0},{"g":725,"v":4.02},{"g":735,"v":4.05},{"g":745,"v":4.82},{"g":755,"v":3.4},{"g":765,"v":3.1},{"g":775,"v":3.98},{"g":785,"v":4.0},{"g":795,"v":4.05},{"g":805,"v":4.15},{"g":815,"v":4.22},{"g":825,"v":4.08},{"g":835,"v":3.85},{"g":845,"v":4.3},{"g":855,"v":3.75},{"g":865,"v":3.65},{"g":875,"v":4.05},{"g":885,"v":4.28},{"g":895,"v":3.9},{"g":905,"v":4.35},{"g":915,"v":4.0},{"g":925,"v":4.15},{"g":935,"v":4.1},{"g":945,"v":4.22},{"g":955,"v":4.4},{"g":965,"v":4.05},{"g":975,"v":4.3},{"g":985,"v":5.0},{"g":995,"v":5.35},{"g":1005,"v":2.7},{"g":1015,"v":3.0},{"g":1025,"v":3.45},{"g":1035,"v":3.7},{"g":1045,"v":4.0},{"g":1055,"v":3.95},{"g":1065,"v":4.2},{"g":1075,"v":4.1},{"g":1085,"v":4.3},{"g":1095,"v":4.75},{"g":1105,"v":4.25},{"g":1115,"v":4.38},{"g":1125,"v":4.05},{"g":1135,"v":4.4},{"g":1145,"v":4.5},{"g":1155,"v":4.3},{"g":1165,"v":4.45},{"g":1175,"v":4.25},{"g":1185,"v":4.55},{"g":1195,"v":4.7},{"g":1205,"v":4.2},{"g":1215,"v":4.5},{"g":1225,"v":4.65},{"g":1235,"v":5.0},{"g":1245,"v":5.35},{"g":1255,"v":3.9},{"g":1265,"v":3.8},{"g":1275,"v":4.3},{"g":1285,"v":4.45},{"g":1295,"v":4.9},{"g":1305,"v":4.5},{"g":1315,"v":4.35},{"g":1325,"v":4.6},{"g":1335,"v":4.72},{"g":1345,"v":4.55},{"g":1355,"v":4.68},{"g":1365,"v":4.5},{"g":1375,"v":4.75},{"g":1385,"v":4.62},{"g":1395,"v":5.1},{"g":1405,"v":4.7},{"g":1415,"v":4.6},{"g":1425,"v":4.85},{"g":1435,"v":4.75},{"g":1445,"v":4.95},{"g":1455,"v":4.8},{"g":1465,"v":5.05},{"g":1475,"v":5.3},{"g":1485,"v":5.8},{"g":1495,"v":6.05},{"g":1505,"v":3.15},{"g":1515,"v":3.5},{"g":1525,"v":3.75},{"g":1535,"v":4.02},{"g":1545,"v":4.3},{"g":1555,"v":4.52},{"g":1565,"v":4.62},{"g":1575,"v":4.84},{"g":1585,"v":5.0},{"g":1595,"v":5.52},{"g":1605,"v":4.91},{"g":1615,"v":5.05},{"g":1625,"v":5.14},{"g":1635,"v":5.02},{"g":1645,"v":5.22},{"g":1655,"v":5.15},{"g":1665,"v":5.05},{"g":1675,"v":5.15},{"g":1685,"v":5.26},{"g":1695,"v":5.6},{"g":1705,"v":5.22},{"g":1715,"v":5.1},{"g":1725,"v":5.3},{"g":1735,"v":5.24},{"g":1745,"v":5.41},{"g":1755,"v":5.25},{"g":1765,"v":5.39},{"g":1775,"v":5.26},{"g":1785,"v":5.32},{"g":1795,"v":5.84},{"g":1805,"v":5.33},{"g":1815,"v":5.46},{"g":1825,"v":5.41},{"g":1835,"v":5.55},{"g":1845,"v":5.6},{"g":1855,"v":5.38},{"g":1865,"v":5.51},{"g":1875,"v":5.47},{"g":1885,"v":5.6},{"g":1895,"v":6.03},{"g":1905,"v":5.63},{"g":1915,"v":5.51},{"g":1925,"v":5.63},{"g":1935,"v":5.49},{"g":1945,"v":5.78},{"g":1955,"v":5.68},{"g":1965,"v":5.59},{"g":1975,"v":5.79},{"g":1985,"v":5.71},{"g":1995,"v":6.3},{"g":2005,"v":5.1},{"g":2015,"v":5.86},{"g":2025,"v":5.71},{"g":2035,"v":5.84},{"g":2045,"v":6.15},{"g":2055,"v":5.8},{"g":2065,"v":5.95},{"g":2075,"v":5.79},{"g":2085,"v":5.95},{"g":2095,"v":6.47},{"g":2105,"v":5.86},{"g":2115,"v":6.0},{"g":2125,"v":6.1},{"g":2135,"v":5.99},{"g":2145,"v":6.24},{"g":2155,"v":6.13},{"g":2165,"v":6.03},{"g":2175,"v":6.13},{"g":2185,"v":6.25},{"g":2195,"v":6.6},{"g":2205,"v":6.22},{"g":2215,"v":6.1},{"g":2225,"v":6.3},{"g":2235,"v":6.25},{"g":2245,"v":6.53},{"g":2255,"v":6.26},{"g":2265,"v":6.4},{"g":2275,"v":6.27},{"g":2285,"v":6.34},{"g":2295,"v":6.86},{"g":2305,"v":6.35},{"g":2315,"v":6.49},{"g":2325,"v":6.45},{"g":2335,"v":6.6},{"g":2345,"v":6.78},{"g":2355,"v":6.44},{"g":2365,"v":6.58},{"g":2375,"v":6.55},{"g":2385,"v":6.68},{"g":2395,"v":7.13},{"g":2405,"v":6.73},{"g":2415,"v":6.62},{"g":2425,"v":6.74},{"g":2435,"v":6.61},{"g":2445,"v":6.99},{"g":2455,"v":6.81},{"g":2465,"v":6.72},{"g":2475,"v":6.93},{"g":2485,"v":6.85},{"g":2495,"v":7.34},{"g":2505,"v":6.9},{"g":2515,"v":7.02},{"g":2525,"v":6.87},{"g":2535,"v":7.01},{"g":2545,"v":7.32},{"g":2555,"v":6.98},{"g":2565,"v":7.13},{"g":2575,"v":6.98},{"g":2585,"v":7.14},{"g":2595,"v":7.67},{"g":2605,"v":7.06},{"g":2615,"v":7.2},{"g":2625,"v":7.3},{"g":2635,"v":7.19},{"g":2645,"v":7.44},{"g":2655,"v":7.33},{"g":2665,"v":7.23},{"g":2675,"v":7.33},{"g":2685,"v":7.45},{"g":2695,"v":7.8},{"g":2705,"v":7.42},{"g":2715,"v":7.3},{"g":2725,"v":7.5},{"g":2735,"v":7.45},{"g":2745,"v":7.73},{"g":2755,"v":7.46},{"g":2765,"v":7.6}],
"y2009":[{"g":555,"v":3.72},{"g":565,"v":4.3},{"g":575,"v":3.95},{"g":585,"v":4.0},{"g":595,"v":4.2},{"g":605,"v":4.1},{"g":615,"v":3.6},{"g":625,"v":3.85},{"g":635,"v":4.0},{"g":645,"v":4.12},{"g":655,"v":3.9},{"g":665,"v":4.18},{"g":675,"v":4.05},{"g":685,"v":3.8},{"g":695,"v":4.25},{"g":705,"v":3.95},{"g":715,"v":4.1},{"g":725,"v":4.05},{"g":735,"v":4.2},{"g":745,"v":4.9},{"g":755,"v":3.3},{"g":765,"v":3.15},{"g":775,"v":3.9},{"g":785,"v":3.7},{"g":795,"v":4.05},{"g":805,"v":4.15},{"g":815,"v":4.0},{"g":825,"v":3.95},{"g":835,"v":4.3},{"g":845,"v":3.85},{"g":855,"v":4.1},{"g":865,"v":4.05},{"g":875,"v":3.75},{"g":885,"v":4.2},{"g":895,"v":4.0},{"g":905,"v":4.35},{"g":915,"v":4.1},{"g":925,"v":4.25},{"g":935,"v":3.95},{"g":945,"v":4.2},{"g":955,"v":4.4},{"g":965,"v":4.15},{"g":975,"v":4.3},{"g":985,"v":5.1},{"g":995,"v":5.2},{"g":1005,"v":2.9},{"g":1015,"v":2.5},{"g":1025,"v":3.7},{"g":1035,"v":3.75},{"g":1045,"v":3.9},{"g":1055,"v":3.85},{"g":1065,"v":4.05},{"g":1075,"v":4.1},{"g":1085,"v":4.0},{"g":1095,"v":4.4},{"g":1105,"v":4.15},{"g":1115,"v":4.3},{"g":1125,"v":4.2},{"g":1135,"v":4.45},{"g":1145,"v":4.6},{"g":1155,"v":4.25},{"g":1165,"v":4.35},{"g":1175,"v":4.2},{"g":1185,"v":4.5},{"g":1195,"v":4.85},{"g":1205,"v":4.3},{"g":1215,"v":4.45},{"g":1225,"v":4.6},{"g":1235,"v":5.3},{"g":1245,"v":5.6},{"g":1255,"v":3.8},{"g":1265,"v":3.6},{"g":1275,"v":4.2},{"g":1285,"v":4.35},{"g":1295,"v":4.9},{"g":1305,"v":4.45},{"g":1315,"v":4.55},{"g":1325,"v":4.6},{"g":1335,"v":4.4},{"g":1345,"v":4.7},{"g":1355,"v":4.58},{"g":1365,"v":4.8},{"g":1375,"v":4.65},{"g":1385,"v":4.75},{"g":1395,"v":5.0},{"g":1405,"v":4.7},{"g":1415,"v":4.85},{"g":1425,"v":4.62},{"g":1435,"v":4.9},{"g":1445,"v":4.8},{"g":1455,"v":5.0},{"g":1465,"v":4.9},{"g":1475,"v":5.2},{"g":1485,"v":5.85},{"g":1495,"v":6.1},{"g":1505,"v":3.5},{"g":1515,"v":3.2},{"g":1525,"v":3.05},{"g":1535,"v":4.35},{"g":1545,"v":4.45},{"g":1555,"v":4.6},{"g":1565,"v":4.86},{"g":1575,"v":4.96},{"g":1585,"v":5.08},{"g":1595,"v":5.42},{"g":1605,"v":5.04},{"g":1615,"v":4.92},{"g":1625,"v":5.12},{"g":1635,"v":5.05},{"g":1645,"v":5.22},{"g":1655,"v":5.06},{"g":1665,"v":5.2},{"g":1675,"v":5.07},{"g":1685,"v":5.12},{"g":1695,"v":5.64},{"g":1705,"v":5.13},{"g":1715,"v":5.26},{"g":1725,"v":5.22},{"g":1735,"v":5.36},{"g":1745,"v":5.41},{"g":1755,"v":5.19},{"g":1765,"v":5.33},{"g":1775,"v":5.29},{"g":1785,"v":5.42},{"g":1795,"v":5.86},{"g":1805,"v":5.46},{"g":1815,"v":5.34},{"g":1825,"v":5.45},{"g":1835,"v":5.31},{"g":1845,"v":5.6},{"g":1855,"v":5.5},{"g":1865,"v":5.4},{"g":1875,"v":5.6},{"g":1885,"v":5.52},{"g":1895,"v":5.99},{"g":1905,"v":5.55},{"g":1915,"v":5.66},{"g":1925,"v":5.51},{"g":1935,"v":5.64},{"g":1945,"v":5.78},{"g":1955,"v":5.6},{"g":1965,"v":5.75},{"g":1975,"v":5.59},{"g":1985,"v":5.75},{"g":1995,"v":6.2},{"g":2005,"v":5.88},{"g":2015,"v":5.8},{"g":2025,"v":5.89},{"g":2035,"v":5.78},{"g":2045,"v":6.03},{"g":2055,"v":5.91},{"g":2065,"v":5.81},{"g":2075,"v":5.91},{"g":2085,"v":6.03},{"g":2095,"v":6.37},{"g":2105,"v":5.99},{"g":2115,"v":5.87},{"g":2125,"v":6.07},{"g":2135,"v":6.01},{"g":2145,"v":6.29},{"g":2155,"v":6.02},{"g":2165,"v":6.16},{"g":2175,"v":6.03},{"g":2185,"v":6.09},{"g":2195,"v":6.61},{"g":2205,"v":6.1},{"g":2215,"v":6.24},{"g":2225,"v":6.2},{"g":2235,"v":6.35},{"g":2245,"v":6.53},{"g":2255,"v":6.19},{"g":2265,"v":6.33},{"g":2275,"v":6.3},{"g":2285,"v":6.43},{"g":2295,"v":6.88},{"g":2305,"v":6.48},{"g":2315,"v":6.37},{"g":2325,"v":6.49},{"g":2335,"v":6.36},{"g":2345,"v":6.74},{"g":2355,"v":6.56},{"g":2365,"v":6.47},{"g":2375,"v":6.68},{"g":2385,"v":6.6},{"g":2395,"v":7.09},{"g":2405,"v":6.65},{"g":2415,"v":6.77},{"g":2425,"v":6.62},{"g":2435,"v":6.76},{"g":2445,"v":7.07},{"g":2455,"v":6.73},{"g":2465,"v":6.88},{"g":2475,"v":6.73},{"g":2485,"v":6.89},{"g":2495,"v":7.42},{"g":2505,"v":6.81},{"g":2515,"v":6.96},{"g":2525,"v":7.05},{"g":2535,"v":6.95},{"g":2545,"v":7.2},{"g":2555,"v":7.09},{"g":2565,"v":6.99},{"g":2575,"v":7.1},{"g":2585,"v":7.22},{"g":2595,"v":7.57},{"g":2605,"v":7.19},{"g":2615,"v":7.07},{"g":2625,"v":7.28},{"g":2635,"v":7.22},{"g":2645,"v":7.5},{"g":2655,"v":7.24},{"g":2665,"v":7.38},{"g":2675,"v":7.25},{"g":2685,"v":7.31},{"g":2695,"v":7.8},{"g":2705,"v":7.33},{"g":2715,"v":7.46},{"g":2725,"v":7.42},{"g":2735,"v":7.57},{"g":2745,"v":7.75},{"g":2755,"v":7.4},{"g":2765,"v":7.54}],
"y2010":[{"g":555,"v":3.9},{"g":565,"v":4.4},{"g":575,"v":3.85},{"g":585,"v":4.1},{"g":595,"v":4.3},{"g":605,"v":4.05},{"g":615,"v":3.95},{"g":625,"v":4.15},{"g":635,"v":4.0},{"g":645,"v":3.9},{"g":655,"v":4.05},{"g":665,"v":4.1},{"g":675,"v":4.12},{"g":685,"v":3.95},{"g":695,"v":4.2},{"g":705,"v":4.0},{"g":715,"v":3.9},{"g":725,"v":4.1},{"g":735,"v":4.15},{"g":745,"v":4.75},{"g":755,"v":3.3},{"g":765,"v":3.2},{"g":775,"v":3.95},{"g":785,"v":4.1},{"g":795,"v":4.25},{"g":805,"v":4.2},{"g":815,"v":4.05},{"g":825,"v":4.15},{"g":835,"v":4.0},{"g":845,"v":3.9},{"g":855,"v":4.2},{"g":865,"v":4.1},{"g":875,"v":4.05},{"g":885,"v":3.95},{"g":895,"v":4.3},{"g":905,"v":4.45},{"g":915,"v":4.1},{"g":925,"v":4.2},{"g":935,"v":4.0},{"g":945,"v":4.35},{"g":955,"v":4.15},{"g":965,"v":4.25},{"g":975,"v":4.4},{"g":985,"v":5.1},{"g":995,"v":5.2},{"g":1005,"v":3.1},{"g":1015,"v":3.15},{"g":1025,"v":3.75},{"g":1035,"v":3.9},{"g":1045,"v":4.25},{"g":1055,"v":4.15},{"g":1065,"v":4.2},{"g":1075,"v":4.3},{"g":1085,"v":4.2},{"g":1095,"v":4.6},{"g":1105,"v":4.3},{"g":1115,"v":4.2},{"g":1125,"v":4.4},{"g":1135,"v":4.35},{"g":1145,"v":4.5},{"g":1155,"v":4.4},{"g":1165,"v":4.6},{"g":1175,"v":4.45},{"g":1185,"v":4.55},{"g":1195,"v":4.8},{"g":1205,"v":4.5},{"g":1215,"v":4.4},{"g":1225,"v":4.65},{"g":1235,"v":5.2},{"g":1245,"v":5.55},{"g":1255,"v":3.9},{"g":1265,"v":3.6},{"g":1275,"v":4.2},{"g":1285,"v":4.35},{"g":1295,"v":4.85},{"g":1305,"v":4.5},{"g":1315,"v":4.6},{"g":1325,"v":4.55},{"g":1335,"v":4.7},{"g":1345,"v":4.9},{"g":1355,"v":4.65},{"g":1365,"v":4.78},{"g":1375,"v":4.7},{"g":1385,"v":4.85},{"g":1395,"v":5.05},{"g":1405,"v":4.8},{"g":1415,"v":4.7},{"g":1425,"v":4.9},{"g":1435,"v":4.85},{"g":1445,"v":5.05},{"g":1455,"v":4.95},{"g":1465,"v":5.1},{"g":1475,"v":5.3},{"g":1485,"v":5.9},{"g":1495,"v":6.05},{"g":1505,"v":3.5},{"g":1515,"v":3.4},{"g":1525,"v":3.2},{"g":1535,"v":4.45},{"g":1545,"v":4.55},{"g":1555,"v":4.65},{"g":1565,"v":5.01},{"g":1575,"v":4.88},{"g":1585,"v":4.94},{"g":1595,"v":5.46},{"g":1605,"v":4.95},{"g":1615,"v":5.08},{"g":1625,"v":5.03},{"g":1635,"v":5.17},{"g":1645,"v":5.21},{"g":1655,"v":4.99},{"g":1665,"v":5.13},{"g":1675,"v":5.08},{"g":1685,"v":5.21},{"g":1695,"v":5.64},{"g":1705,"v":5.24},{"g":1715,"v":5.12},{"g":1725,"v":5.24},{"g":1735,"v":5.1},{"g":1745,"v":5.39},{"g":1755,"v":5.29},{"g":1765,"v":5.19},{"g":1775,"v":5.39},{"g":1785,"v":5.31},{"g":1795,"v":5.79},{"g":1805,"v":5.35},{"g":1815,"v":5.46},{"g":1825,"v":5.31},{"g":1835,"v":5.44},{"g":1845,"v":5.58},{"g":1855,"v":5.4},{"g":1865,"v":5.55},{"g":1875,"v":5.39},{"g":1885,"v":5.55},{"g":1895,"v":6.07},{"g":1905,"v":5.46},{"g":1915,"v":5.6},{"g":1925,"v":5.69},{"g":1935,"v":5.58},{"g":1945,"v":5.78},{"g":1955,"v":5.71},{"g":1965,"v":5.61},{"g":1975,"v":5.71},{"g":1985,"v":5.83},{"g":1995,"v":6.2},{"g":2005,"v":5.6},{"g":2015,"v":5.67},{"g":2025,"v":5.87},{"g":2035,"v":5.81},{"g":2045,"v":6.09},{"g":2055,"v":5.82},{"g":2065,"v":5.96},{"g":2075,"v":5.83},{"g":2085,"v":5.89},{"g":2095,"v":6.41},{"g":2105,"v":5.9},{"g":2115,"v":6.03},{"g":2125,"v":5.99},{"g":2135,"v":6.13},{"g":2145,"v":6.31},{"g":2155,"v":5.97},{"g":2165,"v":6.11},{"g":2175,"v":6.07},{"g":2185,"v":6.2},{"g":2195,"v":6.63},{"g":2205,"v":6.23},{"g":2215,"v":6.12},{"g":2225,"v":6.24},{"g":2235,"v":6.11},{"g":2245,"v":6.49},{"g":2255,"v":6.31},{"g":2265,"v":6.22},{"g":2275,"v":6.43},{"g":2285,"v":6.35},{"g":2295,"v":6.84},{"g":2305,"v":6.4},{"g":2315,"v":6.51},{"g":2325,"v":6.36},{"g":2335,"v":6.5},{"g":2345,"v":6.81},{"g":2355,"v":6.46},{"g":2365,"v":6.61},{"g":2375,"v":6.45},{"g":2385,"v":6.62},{"g":2395,"v":7.14},{"g":2405,"v":6.53},{"g":2415,"v":6.68},{"g":2425,"v":6.77},{"g":2435,"v":6.67},{"g":2445,"v":6.92},{"g":2455,"v":6.81},{"g":2465,"v":6.72},{"g":2475,"v":6.82},{"g":2485,"v":6.95},{"g":2495,"v":7.29},{"g":2505,"v":6.92},{"g":2515,"v":6.8},{"g":2525,"v":7.01},{"g":2535,"v":6.95},{"g":2545,"v":7.24},{"g":2555,"v":6.97},{"g":2565,"v":7.11},{"g":2575,"v":6.99},{"g":2585,"v":7.05},{"g":2595,"v":7.58},{"g":2605,"v":7.07},{"g":2615,"v":7.21},{"g":2625,"v":7.17},{"g":2635,"v":7.32},{"g":2645,"v":7.5},{"g":2655,"v":7.16},{"g":2665,"v":7.31},{"g":2675,"v":7.27},{"g":2685,"v":7.41},{"g":2695,"v":7.76},{"g":2705,"v":7.46},{"g":2715,"v":7.34},{"g":2725,"v":7.47},{"g":2735,"v":7.33},{"g":2745,"v":7.72},{"g":2755,"v":7.53},{"g":2765,"v":7.44}]
},
"columns":3,
"spacing":{"row":30,"column":29},
"bounds":"flush",
"concat":[
{"width":331,"height":259,"layer":[{"data":{"name":"y1996"},"mark":{"type":"point","shape":"circle","filled":false,"size":14,"strokeWidth":1.1,"color":"#1e1e1e"},"encoding":{"x":{"field":"g","type":"quantitative","scale":{"type":"log","domain":[507,3006],"nice":false},"axis":{"values":[600,750,875,1000,1250,1500,2000,2500],"title":null}},"y":{"field":"v","type":"quantitative","scale":{"domain":[1.49,9.74],"nice":false,"zero":false},"axis":{"values":[2,4,6,8],"title":null,"labels":true,"ticks":true,"domain":true,"tickSize":10,"tickColor":"#333","domainColor":"#333","labelAngle":-90,"labelFontSize":17,"labelPadding":4,"labelAlign":"center","labelBaseline":"bottom","minExtent":26,"maxExtent":26}}}},{"data":{"values":[{"t":"1996"}]},"mark":{"type":"rect","fill":"#d3d3d3","stroke":"#c6dbe1","strokeWidth":1},"encoding":{"y":{"datum":0,"scale":{"domain":[0,1],"range":[38,0]},"axis":null},"y2":{"datum":1}}},{"data":{"values":[{"t":"1996"}]},"mark":{"type":"text","fontSize":27,"dy":-3,"color":"#000"},"encoding":{"text":{"field":"t"},"y":{"datum":0.5,"scale":{"domain":[0,1],"range":[38,0]},"axis":null}}}],"resolve":{"scale":{"y":"independent"},"axis":{"y":"independent"}}},
{"width":331,"height":259,"layer":[{"data":{"name":"y1997"},"mark":{"type":"point","shape":"circle","filled":false,"size":14,"strokeWidth":1.1,"color":"#1e1e1e"},"encoding":{"x":{"field":"g","type":"quantitative","scale":{"type":"log","domain":[507,3006],"nice":false},"axis":{"values":[600,750,875,1000,1250,1500,2000,2500],"title":null}},"y":{"field":"v","type":"quantitative","scale":{"domain":[1.49,9.74],"nice":false,"zero":false},"axis":{"values":[2,4,6,8],"title":null}}}},{"data":{"values":[{"t":"1997"}]},"mark":{"type":"rect","fill":"#d3d3d3","stroke":"#c6dbe1","strokeWidth":1},"encoding":{"y":{"datum":0,"scale":{"domain":[0,1],"range":[38,0]},"axis":null},"y2":{"datum":1}}},{"data":{"values":[{"t":"1997"}]},"mark":{"type":"text","fontSize":27,"dy":-3,"color":"#000"},"encoding":{"text":{"field":"t"},"y":{"datum":0.5,"scale":{"domain":[0,1],"range":[38,0]},"axis":null}}}],"resolve":{"scale":{"y":"independent"},"axis":{"y":"independent"}}},
{"width":331,"height":259,"layer":[{"data":{"name":"y1998"},"mark":{"type":"point","shape":"circle","filled":false,"size":14,"strokeWidth":1.1,"color":"#1e1e1e"},"encoding":{"x":{"field":"g","type":"quantitative","scale":{"type":"log","domain":[507,3006],"nice":false},"axis":{"values":[600,750,875,1000,1250,1500,2000,2500],"title":null}},"y":{"field":"v","type":"quantitative","scale":{"domain":[1.49,9.74],"nice":false,"zero":false},"axis":{"values":[2,4,6,8],"title":null}}}},{"data":{"values":[{"t":"1998"}]},"mark":{"type":"rect","fill":"#d3d3d3","stroke":"#c6dbe1","strokeWidth":1},"encoding":{"y":{"datum":0,"scale":{"domain":[0,1],"range":[38,0]},"axis":null},"y2":{"datum":1}}},{"data":{"values":[{"t":"1998"}]},"mark":{"type":"text","fontSize":27,"dy":-3,"color":"#000"},"encoding":{"text":{"field":"t"},"y":{"datum":0.5,"scale":{"domain":[0,1],"range":[38,0]},"axis":null}}}],"resolve":{"scale":{"y":"independent"},"axis":{"y":"independent"}}},
{"width":331,"height":259,"layer":[{"data":{"name":"y1999"},"mark":{"type":"point","shape":"circle","filled":false,"size":14,"strokeWidth":1.1,"color":"#1e1e1e"},"encoding":{"x":{"field":"g","type":"quantitative","scale":{"type":"log","domain":[507,3006],"nice":false},"axis":{"values":[600,750,875,1000,1250,1500,2000,2500],"title":null}},"y":{"field":"v","type":"quantitative","scale":{"domain":[1.49,9.74],"nice":false,"zero":false},"axis":{"values":[2,4,6,8],"title":null,"labels":true,"ticks":true,"domain":true,"tickSize":10,"tickColor":"#333","domainColor":"#333","labelAngle":-90,"labelFontSize":17,"labelPadding":4,"labelAlign":"center","labelBaseline":"bottom","minExtent":26,"maxExtent":26}}}},{"data":{"values":[{"t":"1999"}]},"mark":{"type":"rect","fill":"#d3d3d3","stroke":"#c6dbe1","strokeWidth":1},"encoding":{"y":{"datum":0,"scale":{"domain":[0,1],"range":[38,0]},"axis":null},"y2":{"datum":1}}},{"data":{"values":[{"t":"1999"}]},"mark":{"type":"text","fontSize":27,"dy":-3,"color":"#000"},"encoding":{"text":{"field":"t"},"y":{"datum":0.5,"scale":{"domain":[0,1],"range":[38,0]},"axis":null}}}],"resolve":{"scale":{"y":"independent"},"axis":{"y":"independent"}}},
{"width":331,"height":259,"layer":[{"data":{"name":"y2000"},"mark":{"type":"point","shape":"circle","filled":false,"size":14,"strokeWidth":1.1,"color":"#1e1e1e"},"encoding":{"x":{"field":"g","type":"quantitative","scale":{"type":"log","domain":[507,3006],"nice":false},"axis":{"values":[600,750,875,1000,1250,1500,2000,2500],"title":null}},"y":{"field":"v","type":"quantitative","scale":{"domain":[1.49,9.74],"nice":false,"zero":false},"axis":{"values":[2,4,6,8],"title":null}}}},{"data":{"values":[{"t":"2000"}]},"mark":{"type":"rect","fill":"#d3d3d3","stroke":"#c6dbe1","strokeWidth":1},"encoding":{"y":{"datum":0,"scale":{"domain":[0,1],"range":[38,0]},"axis":null},"y2":{"datum":1}}},{"data":{"values":[{"t":"2000"}]},"mark":{"type":"text","fontSize":27,"dy":-3,"color":"#000"},"encoding":{"text":{"field":"t"},"y":{"datum":0.5,"scale":{"domain":[0,1],"range":[38,0]},"axis":null}}}],"resolve":{"scale":{"y":"independent"},"axis":{"y":"independent"}}},
{"width":331,"height":259,"layer":[{"data":{"name":"y2001"},"mark":{"type":"point","shape":"circle","filled":false,"size":14,"strokeWidth":1.1,"color":"#1e1e1e"},"encoding":{"x":{"field":"g","type":"quantitative","scale":{"type":"log","domain":[507,3006],"nice":false},"axis":{"values":[600,750,875,1000,1250,1500,2000,2500],"title":null}},"y":{"field":"v","type":"quantitative","scale":{"domain":[1.49,9.74],"nice":false,"zero":false},"axis":{"values":[2,4,6,8],"title":null}}}},{"data":{"values":[{"t":"2001"}]},"mark":{"type":"rect","fill":"#d3d3d3","stroke":"#c6dbe1","strokeWidth":1},"encoding":{"y":{"datum":0,"scale":{"domain":[0,1],"range":[38,0]},"axis":null},"y2":{"datum":1}}},{"data":{"values":[{"t":"2001"}]},"mark":{"type":"text","fontSize":27,"dy":-3,"color":"#000"},"encoding":{"text":{"field":"t"},"y":{"datum":0.5,"scale":{"domain":[0,1],"range":[38,0]},"axis":null}}}],"resolve":{"scale":{"y":"independent"},"axis":{"y":"independent"}}},
{"width":331,"height":259,"layer":[{"data":{"name":"y2002"},"mark":{"type":"point","shape":"circle","filled":false,"size":14,"strokeWidth":1.1,"color":"#1e1e1e"},"encoding":{"x":{"field":"g","type":"quantitative","scale":{"type":"log","domain":[507,3006],"nice":false},"axis":{"values":[600,750,875,1000,1250,1500,2000,2500],"title":null}},"y":{"field":"v","type":"quantitative","scale":{"domain":[1.49,9.74],"nice":false,"zero":false},"axis":{"values":[2,4,6,8],"title":"Log Count","titleFontSize":35,"titlePadding":37,"titleY":162,"labels":true,"ticks":true,"domain":true,"tickSize":10,"tickColor":"#333","domainColor":"#333","labelAngle":-90,"labelFontSize":17,"labelPadding":4,"labelAlign":"center","labelBaseline":"bottom","minExtent":26,"maxExtent":26}}}},{"data":{"values":[{"t":"2002"}]},"mark":{"type":"rect","fill":"#d3d3d3","stroke":"#c6dbe1","strokeWidth":1},"encoding":{"y":{"datum":0,"scale":{"domain":[0,1],"range":[38,0]},"axis":null},"y2":{"datum":1}}},{"data":{"values":[{"t":"2002"}]},"mark":{"type":"text","fontSize":27,"dy":-3,"color":"#000"},"encoding":{"text":{"field":"t"},"y":{"datum":0.5,"scale":{"domain":[0,1],"range":[38,0]},"axis":null}}}],"resolve":{"scale":{"y":"independent"},"axis":{"y":"independent"}}},
{"width":331,"height":259,"layer":[{"data":{"name":"y2003"},"mark":{"type":"point","shape":"circle","filled":false,"size":14,"strokeWidth":1.1,"color":"#1e1e1e"},"encoding":{"x":{"field":"g","type":"quantitative","scale":{"type":"log","domain":[507,3006],"nice":false},"axis":{"values":[600,750,875,1000,1250,1500,2000,2500],"title":null}},"y":{"field":"v","type":"quantitative","scale":{"domain":[1.49,9.74],"nice":false,"zero":false},"axis":{"values":[2,4,6,8],"title":null}}}},{"data":{"values":[{"t":"2003"}]},"mark":{"type":"rect","fill":"#d3d3d3","stroke":"#c6dbe1","strokeWidth":1},"encoding":{"y":{"datum":0,"scale":{"domain":[0,1],"range":[38,0]},"axis":null},"y2":{"datum":1}}},{"data":{"values":[{"t":"2003"}]},"mark":{"type":"text","fontSize":27,"dy":-3,"color":"#000"},"encoding":{"text":{"field":"t"},"y":{"datum":0.5,"scale":{"domain":[0,1],"range":[38,0]},"axis":null}}}],"resolve":{"scale":{"y":"independent"},"axis":{"y":"independent"}}},
{"width":331,"height":259,"layer":[{"data":{"name":"y2004"},"mark":{"type":"point","shape":"circle","filled":false,"size":14,"strokeWidth":1.1,"color":"#1e1e1e"},"encoding":{"x":{"field":"g","type":"quantitative","scale":{"type":"log","domain":[507,3006],"nice":false},"axis":{"values":[600,750,875,1000,1250,1500,2000,2500],"title":null}},"y":{"field":"v","type":"quantitative","scale":{"domain":[1.49,9.74],"nice":false,"zero":false},"axis":{"values":[2,4,6,8],"title":null}}}},{"data":{"values":[{"t":"2004"}]},"mark":{"type":"rect","fill":"#d3d3d3","stroke":"#c6dbe1","strokeWidth":1},"encoding":{"y":{"datum":0,"scale":{"domain":[0,1],"range":[38,0]},"axis":null},"y2":{"datum":1}}},{"data":{"values":[{"t":"2004"}]},"mark":{"type":"text","fontSize":27,"dy":-3,"color":"#000"},"encoding":{"text":{"field":"t"},"y":{"datum":0.5,"scale":{"domain":[0,1],"range":[38,0]},"axis":null}}}],"resolve":{"scale":{"y":"independent"},"axis":{"y":"independent"}}},
{"width":331,"height":259,"layer":[{"data":{"name":"y2005"},"mark":{"type":"point","shape":"circle","filled":false,"size":14,"strokeWidth":1.1,"color":"#1e1e1e"},"encoding":{"x":{"field":"g","type":"quantitative","scale":{"type":"log","domain":[507,3006],"nice":false},"axis":{"values":[600,750,875,1000,1250,1500,2000,2500],"title":null}},"y":{"field":"v","type":"quantitative","scale":{"domain":[1.49,9.74],"nice":false,"zero":false},"axis":{"values":[2,4,6,8],"title":null,"labels":true,"ticks":true,"domain":true,"tickSize":10,"tickColor":"#333","domainColor":"#333","labelAngle":-90,"labelFontSize":17,"labelPadding":4,"labelAlign":"center","labelBaseline":"bottom","minExtent":26,"maxExtent":26}}}},{"data":{"values":[{"t":"2005"}]},"mark":{"type":"rect","fill":"#d3d3d3","stroke":"#c6dbe1","strokeWidth":1},"encoding":{"y":{"datum":0,"scale":{"domain":[0,1],"range":[38,0]},"axis":null},"y2":{"datum":1}}},{"data":{"values":[{"t":"2005"}]},"mark":{"type":"text","fontSize":27,"dy":-3,"color":"#000"},"encoding":{"text":{"field":"t"},"y":{"datum":0.5,"scale":{"domain":[0,1],"range":[38,0]},"axis":null}}}],"resolve":{"scale":{"y":"independent"},"axis":{"y":"independent"}}},
{"width":331,"height":259,"layer":[{"data":{"name":"y2006"},"mark":{"type":"point","shape":"circle","filled":false,"size":14,"strokeWidth":1.1,"color":"#1e1e1e"},"encoding":{"x":{"field":"g","type":"quantitative","scale":{"type":"log","domain":[507,3006],"nice":false},"axis":{"values":[600,750,875,1000,1250,1500,2000,2500],"title":null}},"y":{"field":"v","type":"quantitative","scale":{"domain":[1.49,9.74],"nice":false,"zero":false},"axis":{"values":[2,4,6,8],"title":null}}}},{"data":{"values":[{"t":"2006"}]},"mark":{"type":"rect","fill":"#d3d3d3","stroke":"#c6dbe1","strokeWidth":1},"encoding":{"y":{"datum":0,"scale":{"domain":[0,1],"range":[38,0]},"axis":null},"y2":{"datum":1}}},{"data":{"values":[{"t":"2006"}]},"mark":{"type":"text","fontSize":27,"dy":-3,"color":"#000"},"encoding":{"text":{"field":"t"},"y":{"datum":0.5,"scale":{"domain":[0,1],"range":[38,0]},"axis":null}}}],"resolve":{"scale":{"y":"independent"},"axis":{"y":"independent"}}},
{"width":331,"height":259,"layer":[{"data":{"name":"y2007"},"mark":{"type":"point","shape":"circle","filled":false,"size":14,"strokeWidth":1.1,"color":"#1e1e1e"},"encoding":{"x":{"field":"g","type":"quantitative","scale":{"type":"log","domain":[507,3006],"nice":false},"axis":{"values":[600,750,875,1000,1250,1500,2000,2500],"title":null}},"y":{"field":"v","type":"quantitative","scale":{"domain":[1.49,9.74],"nice":false,"zero":false},"axis":{"values":[2,4,6,8],"title":null}}}},{"data":{"values":[{"t":"2007"}]},"mark":{"type":"rect","fill":"#d3d3d3","stroke":"#c6dbe1","strokeWidth":1},"encoding":{"y":{"datum":0,"scale":{"domain":[0,1],"range":[38,0]},"axis":null},"y2":{"datum":1}}},{"data":{"values":[{"t":"2007"}]},"mark":{"type":"text","fontSize":27,"dy":-3,"color":"#000"},"encoding":{"text":{"field":"t"},"y":{"datum":0.5,"scale":{"domain":[0,1],"range":[38,0]},"axis":null}}}],"resolve":{"scale":{"y":"independent"},"axis":{"y":"independent"}}},
{"width":331,"height":259,"layer":[{"data":{"name":"y2008"},"mark":{"type":"point","shape":"circle","filled":false,"size":14,"strokeWidth":1.1,"color":"#1e1e1e"},"encoding":{"x":{"field":"g","type":"quantitative","scale":{"type":"log","domain":[507,3006],"nice":false},"axis":{"values":[600,750,875,1000,1250,1500,2000,2500],"title":null,"format":"d","labels":true,"ticks":true,"domain":true,"labelAngle":-90,"labelFontSize":13,"tickSize":4,"offset":9,"tickColor":"#333","domainColor":"#333","labelPadding":2}},"y":{"field":"v","type":"quantitative","scale":{"domain":[1.49,9.74],"nice":false,"zero":false},"axis":{"values":[2,4,6,8],"title":null,"labels":true,"ticks":true,"domain":true,"tickSize":10,"tickColor":"#333","domainColor":"#333","labelAngle":-90,"labelFontSize":17,"labelPadding":4,"labelAlign":"center","labelBaseline":"bottom","minExtent":26,"maxExtent":26}}}},{"data":{"values":[{"t":"2008"}]},"mark":{"type":"rect","fill":"#d3d3d3","stroke":"#c6dbe1","strokeWidth":1},"encoding":{"y":{"datum":0,"scale":{"domain":[0,1],"range":[38,0]},"axis":null},"y2":{"datum":1}}},{"data":{"values":[{"t":"2008"}]},"mark":{"type":"text","fontSize":27,"dy":-3,"color":"#000"},"encoding":{"text":{"field":"t"},"y":{"datum":0.5,"scale":{"domain":[0,1],"range":[38,0]},"axis":null}}}],"resolve":{"scale":{"y":"independent"},"axis":{"y":"independent"}}},
{"width":331,"height":259,"layer":[{"data":{"name":"y2009"},"mark":{"type":"point","shape":"circle","filled":false,"size":14,"strokeWidth":1.1,"color":"#1e1e1e"},"encoding":{"x":{"field":"g","type":"quantitative","scale":{"type":"log","domain":[507,3006],"nice":false},"axis":{"values":[600,750,875,1000,1250,1500,2000,2500],"title":"Grams (log scale)","format":"d","labels":true,"ticks":true,"domain":true,"labelAngle":-90,"labelFontSize":13,"tickSize":4,"offset":9,"tickColor":"#333","domainColor":"#333","labelPadding":2,"titleFontSize":35,"titleBaseline":"middle","titleX":139,"titleY":73}},"y":{"field":"v","type":"quantitative","scale":{"domain":[1.49,9.74],"nice":false,"zero":false},"axis":{"values":[2,4,6,8],"title":null}}}},{"data":{"values":[{"t":"2009"}]},"mark":{"type":"rect","fill":"#d3d3d3","stroke":"#c6dbe1","strokeWidth":1},"encoding":{"y":{"datum":0,"scale":{"domain":[0,1],"range":[38,0]},"axis":null},"y2":{"datum":1}}},{"data":{"values":[{"t":"2009"}]},"mark":{"type":"text","fontSize":27,"dy":-3,"color":"#000"},"encoding":{"text":{"field":"t"},"y":{"datum":0.5,"scale":{"domain":[0,1],"range":[38,0]},"axis":null}}}],"resolve":{"scale":{"y":"independent"},"axis":{"y":"independent"}}},
{"width":331,"height":259,"layer":[{"data":{"name":"y2010"},"mark":{"type":"point","shape":"circle","filled":false,"size":14,"strokeWidth":1.1,"color":"#1e1e1e"},"encoding":{"x":{"field":"g","type":"quantitative","scale":{"type":"log","domain":[507,3006],"nice":false},"axis":{"values":[600,750,875,1000,1250,1500,2000,2500],"title":null,"format":"d","labels":true,"ticks":true,"domain":true,"labelAngle":-90,"labelFontSize":13,"tickSize":4,"offset":9,"tickColor":"#333","domainColor":"#333","labelPadding":2}},"y":{"field":"v","type":"quantitative","scale":{"domain":[1.49,9.74],"nice":false,"zero":false},"axis":{"values":[2,4,6,8],"title":null}}}},{"data":{"values":[{"t":"2010"}]},"mark":{"type":"rect","fill":"#d3d3d3","stroke":"#c6dbe1","strokeWidth":1},"encoding":{"y":{"datum":0,"scale":{"domain":[0,1],"range":[38,0]},"axis":null},"y2":{"datum":1}}},{"data":{"values":[{"t":"2010"}]},"mark":{"type":"text","fontSize":27,"dy":-3,"color":"#000"},"encoding":{"text":{"field":"t"},"y":{"datum":0.5,"scale":{"domain":[0,1],"range":[38,0]},"axis":null}}}],"resolve":{"scale":{"y":"independent"},"axis":{"y":"independent"}}}
]
}
